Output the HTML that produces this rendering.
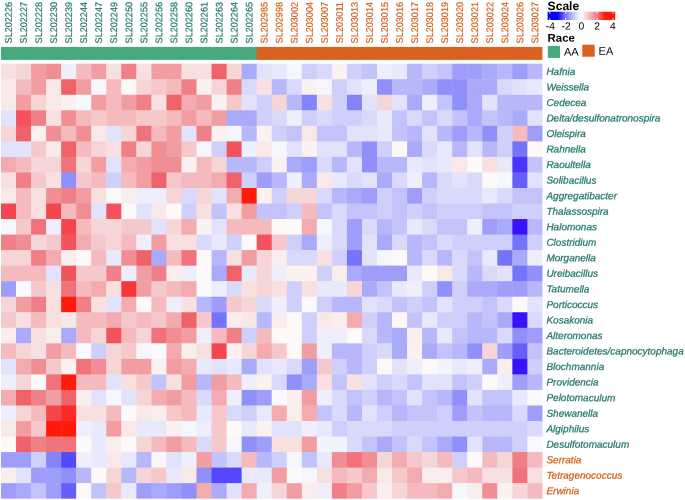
<!DOCTYPE html><html><head><meta charset="utf-8"><title>Heatmap</title><style>html,body{margin:0;padding:0;background:#fff}svg{display:block}text{font-family:"Liberation Sans",Arial,sans-serif}</style></head><body>
<svg width="685" height="500" viewBox="0 0 685 500">
<rect width="685" height="500" fill="#fff"/>
<g font-size="9.6" stroke-width="0.2">
<text transform="translate(11.82,43.40) rotate(-89.9)" textLength="41.4" lengthAdjust="spacingAndGlyphs" fill="#23776B" stroke="#23776B">SL202226</text>
<text transform="translate(26.86,43.40) rotate(-89.9)" textLength="41.4" lengthAdjust="spacingAndGlyphs" fill="#23776B" stroke="#23776B">SL202227</text>
<text transform="translate(41.90,43.40) rotate(-89.9)" textLength="41.4" lengthAdjust="spacingAndGlyphs" fill="#23776B" stroke="#23776B">SL202228</text>
<text transform="translate(56.94,43.40) rotate(-89.9)" textLength="41.4" lengthAdjust="spacingAndGlyphs" fill="#23776B" stroke="#23776B">SL202230</text>
<text transform="translate(71.98,43.40) rotate(-89.9)" textLength="41.4" lengthAdjust="spacingAndGlyphs" fill="#23776B" stroke="#23776B">SL202239</text>
<text transform="translate(87.02,43.40) rotate(-89.9)" textLength="41.4" lengthAdjust="spacingAndGlyphs" fill="#23776B" stroke="#23776B">SL202244</text>
<text transform="translate(102.06,43.40) rotate(-89.9)" textLength="41.4" lengthAdjust="spacingAndGlyphs" fill="#23776B" stroke="#23776B">SL202247</text>
<text transform="translate(117.10,43.40) rotate(-89.9)" textLength="41.4" lengthAdjust="spacingAndGlyphs" fill="#23776B" stroke="#23776B">SL202249</text>
<text transform="translate(132.14,43.40) rotate(-89.9)" textLength="41.4" lengthAdjust="spacingAndGlyphs" fill="#23776B" stroke="#23776B">SL202250</text>
<text transform="translate(147.18,43.40) rotate(-89.9)" textLength="41.4" lengthAdjust="spacingAndGlyphs" fill="#23776B" stroke="#23776B">SL202255</text>
<text transform="translate(162.22,43.40) rotate(-89.9)" textLength="41.4" lengthAdjust="spacingAndGlyphs" fill="#23776B" stroke="#23776B">SL202256</text>
<text transform="translate(177.26,43.40) rotate(-89.9)" textLength="41.4" lengthAdjust="spacingAndGlyphs" fill="#23776B" stroke="#23776B">SL202258</text>
<text transform="translate(192.30,43.40) rotate(-89.9)" textLength="41.4" lengthAdjust="spacingAndGlyphs" fill="#23776B" stroke="#23776B">SL202260</text>
<text transform="translate(207.34,43.40) rotate(-89.9)" textLength="41.4" lengthAdjust="spacingAndGlyphs" fill="#23776B" stroke="#23776B">SL202261</text>
<text transform="translate(222.38,43.40) rotate(-89.9)" textLength="41.4" lengthAdjust="spacingAndGlyphs" fill="#23776B" stroke="#23776B">SL202263</text>
<text transform="translate(237.42,43.40) rotate(-89.9)" textLength="41.4" lengthAdjust="spacingAndGlyphs" fill="#23776B" stroke="#23776B">SL202264</text>
<text transform="translate(252.46,43.40) rotate(-89.9)" textLength="41.4" lengthAdjust="spacingAndGlyphs" fill="#23776B" stroke="#23776B">SL202265</text>
<text transform="translate(267.50,43.40) rotate(-89.9)" textLength="41.4" lengthAdjust="spacingAndGlyphs" fill="#D2601E" stroke="#D2601E">SL202985</text>
<text transform="translate(282.54,43.40) rotate(-89.9)" textLength="41.4" lengthAdjust="spacingAndGlyphs" fill="#D2601E" stroke="#D2601E">SL202998</text>
<text transform="translate(297.58,43.40) rotate(-89.9)" textLength="41.4" lengthAdjust="spacingAndGlyphs" fill="#D2601E" stroke="#D2601E">SL203002</text>
<text transform="translate(312.62,43.40) rotate(-89.9)" textLength="41.4" lengthAdjust="spacingAndGlyphs" fill="#D2601E" stroke="#D2601E">SL203004</text>
<text transform="translate(327.66,43.40) rotate(-89.9)" textLength="41.4" lengthAdjust="spacingAndGlyphs" fill="#D2601E" stroke="#D2601E">SL203007</text>
<text transform="translate(342.70,43.40) rotate(-89.9)" textLength="41.4" lengthAdjust="spacingAndGlyphs" fill="#D2601E" stroke="#D2601E">SL203011</text>
<text transform="translate(357.74,43.40) rotate(-89.9)" textLength="41.4" lengthAdjust="spacingAndGlyphs" fill="#D2601E" stroke="#D2601E">SL203013</text>
<text transform="translate(372.78,43.40) rotate(-89.9)" textLength="41.4" lengthAdjust="spacingAndGlyphs" fill="#D2601E" stroke="#D2601E">SL203014</text>
<text transform="translate(387.82,43.40) rotate(-89.9)" textLength="41.4" lengthAdjust="spacingAndGlyphs" fill="#D2601E" stroke="#D2601E">SL203015</text>
<text transform="translate(402.86,43.40) rotate(-89.9)" textLength="41.4" lengthAdjust="spacingAndGlyphs" fill="#D2601E" stroke="#D2601E">SL203016</text>
<text transform="translate(417.90,43.40) rotate(-89.9)" textLength="41.4" lengthAdjust="spacingAndGlyphs" fill="#D2601E" stroke="#D2601E">SL203017</text>
<text transform="translate(432.94,43.40) rotate(-89.9)" textLength="41.4" lengthAdjust="spacingAndGlyphs" fill="#D2601E" stroke="#D2601E">SL203018</text>
<text transform="translate(447.98,43.40) rotate(-89.9)" textLength="41.4" lengthAdjust="spacingAndGlyphs" fill="#D2601E" stroke="#D2601E">SL203019</text>
<text transform="translate(463.02,43.40) rotate(-89.9)" textLength="41.4" lengthAdjust="spacingAndGlyphs" fill="#D2601E" stroke="#D2601E">SL203020</text>
<text transform="translate(478.06,43.40) rotate(-89.9)" textLength="41.4" lengthAdjust="spacingAndGlyphs" fill="#D2601E" stroke="#D2601E">SL203021</text>
<text transform="translate(493.10,43.40) rotate(-89.9)" textLength="41.4" lengthAdjust="spacingAndGlyphs" fill="#D2601E" stroke="#D2601E">SL203022</text>
<text transform="translate(508.14,43.40) rotate(-89.9)" textLength="41.4" lengthAdjust="spacingAndGlyphs" fill="#D2601E" stroke="#D2601E">SL203024</text>
<text transform="translate(523.18,43.40) rotate(-89.9)" textLength="41.4" lengthAdjust="spacingAndGlyphs" fill="#D2601E" stroke="#D2601E">SL203026</text>
<text transform="translate(538.22,43.40) rotate(-89.9)" textLength="41.4" lengthAdjust="spacingAndGlyphs" fill="#D2601E" stroke="#D2601E">SL203027</text>
</g>
<rect x="1.00" y="46.90" width="256.08" height="13.00" fill="#48A97C"/>
<rect x="256.68" y="46.90" width="285.76" height="13.00" fill="#D9621E"/>
<rect x="1.00" y="63.70" width="15.54" height="16.04" fill="#F8E0E0"/>
<rect x="16.04" y="63.70" width="15.54" height="16.04" fill="#F6D5D7"/>
<rect x="31.08" y="63.70" width="15.54" height="16.04" fill="#F29DA2"/>
<rect x="46.12" y="63.70" width="15.54" height="16.04" fill="#F18E94"/>
<rect x="61.16" y="63.70" width="15.54" height="16.04" fill="#EEEEFD"/>
<rect x="76.20" y="63.70" width="15.54" height="16.04" fill="#F4BABE"/>
<rect x="91.24" y="63.70" width="15.54" height="16.04" fill="#F29DA2"/>
<rect x="106.28" y="63.70" width="15.54" height="16.04" fill="#F8E0E0"/>
<rect x="121.32" y="63.70" width="15.54" height="16.04" fill="#F08087"/>
<rect x="136.36" y="63.70" width="15.54" height="16.04" fill="#F8E0E0"/>
<rect x="151.40" y="63.70" width="15.54" height="16.04" fill="#F29DA2"/>
<rect x="166.44" y="63.70" width="15.54" height="16.04" fill="#F29DA2"/>
<rect x="181.48" y="63.70" width="15.54" height="16.04" fill="#F8E0E0"/>
<rect x="196.52" y="63.70" width="15.54" height="16.04" fill="#F8E0E0"/>
<rect x="211.56" y="63.70" width="15.54" height="16.04" fill="#F0626A"/>
<rect x="226.60" y="63.70" width="15.54" height="16.04" fill="#F6D5D7"/>
<rect x="241.64" y="63.70" width="15.54" height="16.04" fill="#AAAAFB"/>
<rect x="256.68" y="63.70" width="15.54" height="16.04" fill="#E2E2FD"/>
<rect x="271.72" y="63.70" width="15.54" height="16.04" fill="#E9E9FD"/>
<rect x="286.76" y="63.70" width="15.54" height="16.04" fill="#F6F6FD"/>
<rect x="301.80" y="63.70" width="15.54" height="16.04" fill="#CFCFFC"/>
<rect x="316.84" y="63.70" width="15.54" height="16.04" fill="#D9D9FC"/>
<rect x="331.88" y="63.70" width="15.54" height="16.04" fill="#FBF1F1"/>
<rect x="346.92" y="63.70" width="15.54" height="16.04" fill="#CFCFFC"/>
<rect x="361.96" y="63.70" width="15.54" height="16.04" fill="#C3C3FB"/>
<rect x="377.00" y="63.70" width="15.54" height="16.04" fill="#EEEEFD"/>
<rect x="392.04" y="63.70" width="15.54" height="16.04" fill="#E9E9FD"/>
<rect x="407.08" y="63.70" width="15.54" height="16.04" fill="#B7B7FB"/>
<rect x="422.12" y="63.70" width="15.54" height="16.04" fill="#CFCFFC"/>
<rect x="437.16" y="63.70" width="15.54" height="16.04" fill="#C3C3FB"/>
<rect x="452.20" y="63.70" width="15.54" height="16.04" fill="#9E9EFA"/>
<rect x="467.24" y="63.70" width="15.54" height="16.04" fill="#9E9EFA"/>
<rect x="482.28" y="63.70" width="15.54" height="16.04" fill="#AAAAFB"/>
<rect x="497.32" y="63.70" width="15.54" height="16.04" fill="#B7B7FB"/>
<rect x="512.36" y="63.70" width="15.54" height="16.04" fill="#9E9EFA"/>
<rect x="527.40" y="63.70" width="15.04" height="16.04" fill="#B7B7FB"/>
<rect x="1.00" y="79.23" width="15.54" height="16.04" fill="#F9E8E8"/>
<rect x="16.04" y="79.23" width="15.54" height="16.04" fill="#F4BABE"/>
<rect x="31.08" y="79.23" width="15.54" height="16.04" fill="#F29DA2"/>
<rect x="46.12" y="79.23" width="15.54" height="16.04" fill="#F9E8E8"/>
<rect x="61.16" y="79.23" width="15.54" height="16.04" fill="#F0626A"/>
<rect x="76.20" y="79.23" width="15.54" height="16.04" fill="#F29DA2"/>
<rect x="91.24" y="79.23" width="15.54" height="16.04" fill="#F6F6FD"/>
<rect x="106.28" y="79.23" width="15.54" height="16.04" fill="#F4BABE"/>
<rect x="121.32" y="79.23" width="15.54" height="16.04" fill="#FDF9F9"/>
<rect x="136.36" y="79.23" width="15.54" height="16.04" fill="#F6D5D7"/>
<rect x="151.40" y="79.23" width="15.54" height="16.04" fill="#F5C8CC"/>
<rect x="166.44" y="79.23" width="15.54" height="16.04" fill="#F4BABE"/>
<rect x="181.48" y="79.23" width="15.54" height="16.04" fill="#F08087"/>
<rect x="196.52" y="79.23" width="15.54" height="16.04" fill="#FBF1F1"/>
<rect x="211.56" y="79.23" width="15.54" height="16.04" fill="#F6D5D7"/>
<rect x="226.60" y="79.23" width="15.54" height="16.04" fill="#F08087"/>
<rect x="241.64" y="79.23" width="15.54" height="16.04" fill="#D9D9FC"/>
<rect x="256.68" y="79.23" width="15.54" height="16.04" fill="#F8E0E0"/>
<rect x="271.72" y="79.23" width="15.54" height="16.04" fill="#B7B7FB"/>
<rect x="286.76" y="79.23" width="15.54" height="16.04" fill="#D9D9FC"/>
<rect x="301.80" y="79.23" width="15.54" height="16.04" fill="#FBF1F1"/>
<rect x="316.84" y="79.23" width="15.54" height="16.04" fill="#F6F6FD"/>
<rect x="331.88" y="79.23" width="15.54" height="16.04" fill="#CFCFFC"/>
<rect x="346.92" y="79.23" width="15.54" height="16.04" fill="#E2E2FD"/>
<rect x="361.96" y="79.23" width="15.54" height="16.04" fill="#EEEEFD"/>
<rect x="377.00" y="79.23" width="15.54" height="16.04" fill="#9090FA"/>
<rect x="392.04" y="79.23" width="15.54" height="16.04" fill="#B7B7FB"/>
<rect x="407.08" y="79.23" width="15.54" height="16.04" fill="#B7B7FB"/>
<rect x="422.12" y="79.23" width="15.54" height="16.04" fill="#AAAAFB"/>
<rect x="437.16" y="79.23" width="15.54" height="16.04" fill="#9090FA"/>
<rect x="452.20" y="79.23" width="15.54" height="16.04" fill="#9090FA"/>
<rect x="467.24" y="79.23" width="15.54" height="16.04" fill="#AAAAFB"/>
<rect x="482.28" y="79.23" width="15.54" height="16.04" fill="#AAAAFB"/>
<rect x="497.32" y="79.23" width="15.54" height="16.04" fill="#D9D9FC"/>
<rect x="512.36" y="79.23" width="15.54" height="16.04" fill="#E2E2FD"/>
<rect x="527.40" y="79.23" width="15.04" height="16.04" fill="#E9E9FD"/>
<rect x="1.00" y="94.77" width="15.54" height="16.04" fill="#F9E8E8"/>
<rect x="16.04" y="94.77" width="15.54" height="16.04" fill="#F29DA2"/>
<rect x="31.08" y="94.77" width="15.54" height="16.04" fill="#F6D5D7"/>
<rect x="46.12" y="94.77" width="15.54" height="16.04" fill="#F9E8E8"/>
<rect x="61.16" y="94.77" width="15.54" height="16.04" fill="#FBF1F1"/>
<rect x="76.20" y="94.77" width="15.54" height="16.04" fill="#F6F6FD"/>
<rect x="91.24" y="94.77" width="15.54" height="16.04" fill="#F29DA2"/>
<rect x="106.28" y="94.77" width="15.54" height="16.04" fill="#F4BABE"/>
<rect x="121.32" y="94.77" width="15.54" height="16.04" fill="#F29DA2"/>
<rect x="136.36" y="94.77" width="15.54" height="16.04" fill="#F08087"/>
<rect x="151.40" y="94.77" width="15.54" height="16.04" fill="#F8E0E0"/>
<rect x="166.44" y="94.77" width="15.54" height="16.04" fill="#F0626A"/>
<rect x="181.48" y="94.77" width="15.54" height="16.04" fill="#F3ABAF"/>
<rect x="196.52" y="94.77" width="15.54" height="16.04" fill="#F29DA2"/>
<rect x="211.56" y="94.77" width="15.54" height="16.04" fill="#FBF1F1"/>
<rect x="226.60" y="94.77" width="15.54" height="16.04" fill="#F5C8CC"/>
<rect x="241.64" y="94.77" width="15.54" height="16.04" fill="#E2E2FD"/>
<rect x="256.68" y="94.77" width="15.54" height="16.04" fill="#CFCFFC"/>
<rect x="271.72" y="94.77" width="15.54" height="16.04" fill="#F6D5D7"/>
<rect x="286.76" y="94.77" width="15.54" height="16.04" fill="#B7B7FB"/>
<rect x="301.80" y="94.77" width="15.54" height="16.04" fill="#8383FA"/>
<rect x="316.84" y="94.77" width="15.54" height="16.04" fill="#F8E0E0"/>
<rect x="331.88" y="94.77" width="15.54" height="16.04" fill="#CFCFFC"/>
<rect x="346.92" y="94.77" width="15.54" height="16.04" fill="#8383FA"/>
<rect x="361.96" y="94.77" width="15.54" height="16.04" fill="#E2E2FD"/>
<rect x="377.00" y="94.77" width="15.54" height="16.04" fill="#F6D5D7"/>
<rect x="392.04" y="94.77" width="15.54" height="16.04" fill="#E2E2FD"/>
<rect x="407.08" y="94.77" width="15.54" height="16.04" fill="#AAAAFB"/>
<rect x="422.12" y="94.77" width="15.54" height="16.04" fill="#EEEEFD"/>
<rect x="437.16" y="94.77" width="15.54" height="16.04" fill="#C3C3FB"/>
<rect x="452.20" y="94.77" width="15.54" height="16.04" fill="#9090FA"/>
<rect x="467.24" y="94.77" width="15.54" height="16.04" fill="#AAAAFB"/>
<rect x="482.28" y="94.77" width="15.54" height="16.04" fill="#E2E2FD"/>
<rect x="497.32" y="94.77" width="15.54" height="16.04" fill="#B7B7FB"/>
<rect x="512.36" y="94.77" width="15.54" height="16.04" fill="#B7B7FB"/>
<rect x="527.40" y="94.77" width="15.04" height="16.04" fill="#B7B7FB"/>
<rect x="1.00" y="110.31" width="15.54" height="16.04" fill="#E2E2FD"/>
<rect x="16.04" y="110.31" width="15.54" height="16.04" fill="#F2535C"/>
<rect x="31.08" y="110.31" width="15.54" height="16.04" fill="#F08087"/>
<rect x="46.12" y="110.31" width="15.54" height="16.04" fill="#F8E0E0"/>
<rect x="61.16" y="110.31" width="15.54" height="16.04" fill="#F18E94"/>
<rect x="76.20" y="110.31" width="15.54" height="16.04" fill="#F4BABE"/>
<rect x="91.24" y="110.31" width="15.54" height="16.04" fill="#F5C8CC"/>
<rect x="106.28" y="110.31" width="15.54" height="16.04" fill="#F4BABE"/>
<rect x="121.32" y="110.31" width="15.54" height="16.04" fill="#F4BABE"/>
<rect x="136.36" y="110.31" width="15.54" height="16.04" fill="#F5C8CC"/>
<rect x="151.40" y="110.31" width="15.54" height="16.04" fill="#F5C8CC"/>
<rect x="166.44" y="110.31" width="15.54" height="16.04" fill="#F4BABE"/>
<rect x="181.48" y="110.31" width="15.54" height="16.04" fill="#F29DA2"/>
<rect x="196.52" y="110.31" width="15.54" height="16.04" fill="#F4BABE"/>
<rect x="211.56" y="110.31" width="15.54" height="16.04" fill="#F29DA2"/>
<rect x="226.60" y="110.31" width="15.54" height="16.04" fill="#AAAAFB"/>
<rect x="241.64" y="110.31" width="15.54" height="16.04" fill="#AAAAFB"/>
<rect x="256.68" y="110.31" width="15.54" height="16.04" fill="#CFCFFC"/>
<rect x="271.72" y="110.31" width="15.54" height="16.04" fill="#D9D9FC"/>
<rect x="286.76" y="110.31" width="15.54" height="16.04" fill="#EEEEFD"/>
<rect x="301.80" y="110.31" width="15.54" height="16.04" fill="#CFCFFC"/>
<rect x="316.84" y="110.31" width="15.54" height="16.04" fill="#D9D9FC"/>
<rect x="331.88" y="110.31" width="15.54" height="16.04" fill="#CFCFFC"/>
<rect x="346.92" y="110.31" width="15.54" height="16.04" fill="#CFCFFC"/>
<rect x="361.96" y="110.31" width="15.54" height="16.04" fill="#D9D9FC"/>
<rect x="377.00" y="110.31" width="15.54" height="16.04" fill="#E9E9FD"/>
<rect x="392.04" y="110.31" width="15.54" height="16.04" fill="#C3C3FB"/>
<rect x="407.08" y="110.31" width="15.54" height="16.04" fill="#D9D9FC"/>
<rect x="422.12" y="110.31" width="15.54" height="16.04" fill="#C3C3FB"/>
<rect x="437.16" y="110.31" width="15.54" height="16.04" fill="#D9D9FC"/>
<rect x="452.20" y="110.31" width="15.54" height="16.04" fill="#C3C3FB"/>
<rect x="467.24" y="110.31" width="15.54" height="16.04" fill="#AAAAFB"/>
<rect x="482.28" y="110.31" width="15.54" height="16.04" fill="#C3C3FB"/>
<rect x="497.32" y="110.31" width="15.54" height="16.04" fill="#B7B7FB"/>
<rect x="512.36" y="110.31" width="15.54" height="16.04" fill="#AAAAFB"/>
<rect x="527.40" y="110.31" width="15.04" height="16.04" fill="#E2E2FD"/>
<rect x="1.00" y="125.84" width="15.54" height="16.04" fill="#F6D5D7"/>
<rect x="16.04" y="125.84" width="15.54" height="16.04" fill="#F0626A"/>
<rect x="31.08" y="125.84" width="15.54" height="16.04" fill="#FBF1F1"/>
<rect x="46.12" y="125.84" width="15.54" height="16.04" fill="#F18E94"/>
<rect x="61.16" y="125.84" width="15.54" height="16.04" fill="#F4BABE"/>
<rect x="76.20" y="125.84" width="15.54" height="16.04" fill="#F18E94"/>
<rect x="91.24" y="125.84" width="15.54" height="16.04" fill="#F9E8E8"/>
<rect x="106.28" y="125.84" width="15.54" height="16.04" fill="#E2E2FD"/>
<rect x="121.32" y="125.84" width="15.54" height="16.04" fill="#F6D5D7"/>
<rect x="136.36" y="125.84" width="15.54" height="16.04" fill="#F0737B"/>
<rect x="151.40" y="125.84" width="15.54" height="16.04" fill="#F4BABE"/>
<rect x="166.44" y="125.84" width="15.54" height="16.04" fill="#F29DA2"/>
<rect x="181.48" y="125.84" width="15.54" height="16.04" fill="#E2E2FD"/>
<rect x="196.52" y="125.84" width="15.54" height="16.04" fill="#F08087"/>
<rect x="211.56" y="125.84" width="15.54" height="16.04" fill="#FBF1F1"/>
<rect x="226.60" y="125.84" width="15.54" height="16.04" fill="#F6F6FD"/>
<rect x="241.64" y="125.84" width="15.54" height="16.04" fill="#B7B7FB"/>
<rect x="256.68" y="125.84" width="15.54" height="16.04" fill="#FBF1F1"/>
<rect x="271.72" y="125.84" width="15.54" height="16.04" fill="#CFCFFC"/>
<rect x="286.76" y="125.84" width="15.54" height="16.04" fill="#C3C3FB"/>
<rect x="301.80" y="125.84" width="15.54" height="16.04" fill="#F9E8E8"/>
<rect x="316.84" y="125.84" width="15.54" height="16.04" fill="#C3C3FB"/>
<rect x="331.88" y="125.84" width="15.54" height="16.04" fill="#C3C3FB"/>
<rect x="346.92" y="125.84" width="15.54" height="16.04" fill="#E2E2FD"/>
<rect x="361.96" y="125.84" width="15.54" height="16.04" fill="#E2E2FD"/>
<rect x="377.00" y="125.84" width="15.54" height="16.04" fill="#E9E9FD"/>
<rect x="392.04" y="125.84" width="15.54" height="16.04" fill="#C3C3FB"/>
<rect x="407.08" y="125.84" width="15.54" height="16.04" fill="#B7B7FB"/>
<rect x="422.12" y="125.84" width="15.54" height="16.04" fill="#E2E2FD"/>
<rect x="437.16" y="125.84" width="15.54" height="16.04" fill="#B7B7FB"/>
<rect x="452.20" y="125.84" width="15.54" height="16.04" fill="#9E9EFA"/>
<rect x="467.24" y="125.84" width="15.54" height="16.04" fill="#B7B7FB"/>
<rect x="482.28" y="125.84" width="15.54" height="16.04" fill="#9090FA"/>
<rect x="497.32" y="125.84" width="15.54" height="16.04" fill="#CFCFFC"/>
<rect x="512.36" y="125.84" width="15.54" height="16.04" fill="#F4BABE"/>
<rect x="527.40" y="125.84" width="15.04" height="16.04" fill="#9E9EFA"/>
<rect x="1.00" y="141.38" width="15.54" height="16.04" fill="#E2E2FD"/>
<rect x="16.04" y="141.38" width="15.54" height="16.04" fill="#E2E2FD"/>
<rect x="31.08" y="141.38" width="15.54" height="16.04" fill="#F5C8CC"/>
<rect x="46.12" y="141.38" width="15.54" height="16.04" fill="#F9E8E8"/>
<rect x="61.16" y="141.38" width="15.54" height="16.04" fill="#F0626A"/>
<rect x="76.20" y="141.38" width="15.54" height="16.04" fill="#F4BABE"/>
<rect x="91.24" y="141.38" width="15.54" height="16.04" fill="#F6D5D7"/>
<rect x="106.28" y="141.38" width="15.54" height="16.04" fill="#F8E0E0"/>
<rect x="121.32" y="141.38" width="15.54" height="16.04" fill="#F08087"/>
<rect x="136.36" y="141.38" width="15.54" height="16.04" fill="#F6D5D7"/>
<rect x="151.40" y="141.38" width="15.54" height="16.04" fill="#F18E94"/>
<rect x="166.44" y="141.38" width="15.54" height="16.04" fill="#F29DA2"/>
<rect x="181.48" y="141.38" width="15.54" height="16.04" fill="#F5C8CC"/>
<rect x="196.52" y="141.38" width="15.54" height="16.04" fill="#F6F6FD"/>
<rect x="211.56" y="141.38" width="15.54" height="16.04" fill="#CFCFFC"/>
<rect x="226.60" y="141.38" width="15.54" height="16.04" fill="#F2535C"/>
<rect x="241.64" y="141.38" width="15.54" height="16.04" fill="#EEEEFD"/>
<rect x="256.68" y="141.38" width="15.54" height="16.04" fill="#F9E8E8"/>
<rect x="271.72" y="141.38" width="15.54" height="16.04" fill="#F6F6FD"/>
<rect x="286.76" y="141.38" width="15.54" height="16.04" fill="#E2E2FD"/>
<rect x="301.80" y="141.38" width="15.54" height="16.04" fill="#FBF1F1"/>
<rect x="316.84" y="141.38" width="15.54" height="16.04" fill="#E2E2FD"/>
<rect x="331.88" y="141.38" width="15.54" height="16.04" fill="#E2E2FD"/>
<rect x="346.92" y="141.38" width="15.54" height="16.04" fill="#B7B7FB"/>
<rect x="361.96" y="141.38" width="15.54" height="16.04" fill="#9090FA"/>
<rect x="377.00" y="141.38" width="15.54" height="16.04" fill="#CFCFFC"/>
<rect x="392.04" y="141.38" width="15.54" height="16.04" fill="#FDF7F7"/>
<rect x="407.08" y="141.38" width="15.54" height="16.04" fill="#AAAAFB"/>
<rect x="422.12" y="141.38" width="15.54" height="16.04" fill="#D9D9FC"/>
<rect x="437.16" y="141.38" width="15.54" height="16.04" fill="#E9E9FD"/>
<rect x="452.20" y="141.38" width="15.54" height="16.04" fill="#B7B7FB"/>
<rect x="467.24" y="141.38" width="15.54" height="16.04" fill="#E2E2FD"/>
<rect x="482.28" y="141.38" width="15.54" height="16.04" fill="#B7B7FB"/>
<rect x="497.32" y="141.38" width="15.54" height="16.04" fill="#CFCFFC"/>
<rect x="512.36" y="141.38" width="15.54" height="16.04" fill="#7474FA"/>
<rect x="527.40" y="141.38" width="15.04" height="16.04" fill="#FDF7F7"/>
<rect x="1.00" y="156.91" width="15.54" height="16.04" fill="#F3ABAF"/>
<rect x="16.04" y="156.91" width="15.54" height="16.04" fill="#F4BABE"/>
<rect x="31.08" y="156.91" width="15.54" height="16.04" fill="#F6D5D7"/>
<rect x="46.12" y="156.91" width="15.54" height="16.04" fill="#F6D5D7"/>
<rect x="61.16" y="156.91" width="15.54" height="16.04" fill="#F0737B"/>
<rect x="76.20" y="156.91" width="15.54" height="16.04" fill="#F6D5D7"/>
<rect x="91.24" y="156.91" width="15.54" height="16.04" fill="#F29DA2"/>
<rect x="106.28" y="156.91" width="15.54" height="16.04" fill="#E2E2FD"/>
<rect x="121.32" y="156.91" width="15.54" height="16.04" fill="#F3ABAF"/>
<rect x="136.36" y="156.91" width="15.54" height="16.04" fill="#F29DA2"/>
<rect x="151.40" y="156.91" width="15.54" height="16.04" fill="#F18E94"/>
<rect x="166.44" y="156.91" width="15.54" height="16.04" fill="#F18E94"/>
<rect x="181.48" y="156.91" width="15.54" height="16.04" fill="#FBF1F1"/>
<rect x="196.52" y="156.91" width="15.54" height="16.04" fill="#F4BABE"/>
<rect x="211.56" y="156.91" width="15.54" height="16.04" fill="#F6D5D7"/>
<rect x="226.60" y="156.91" width="15.54" height="16.04" fill="#B7B7FB"/>
<rect x="241.64" y="156.91" width="15.54" height="16.04" fill="#B7B7FB"/>
<rect x="256.68" y="156.91" width="15.54" height="16.04" fill="#CFCFFC"/>
<rect x="271.72" y="156.91" width="15.54" height="16.04" fill="#FBF1F1"/>
<rect x="286.76" y="156.91" width="15.54" height="16.04" fill="#AAAAFB"/>
<rect x="301.80" y="156.91" width="15.54" height="16.04" fill="#9E9EFA"/>
<rect x="316.84" y="156.91" width="15.54" height="16.04" fill="#D9D9FC"/>
<rect x="331.88" y="156.91" width="15.54" height="16.04" fill="#B7B7FB"/>
<rect x="346.92" y="156.91" width="15.54" height="16.04" fill="#E2E2FD"/>
<rect x="361.96" y="156.91" width="15.54" height="16.04" fill="#9090FA"/>
<rect x="377.00" y="156.91" width="15.54" height="16.04" fill="#B7B7FB"/>
<rect x="392.04" y="156.91" width="15.54" height="16.04" fill="#B7B7FB"/>
<rect x="407.08" y="156.91" width="15.54" height="16.04" fill="#E9E9FD"/>
<rect x="422.12" y="156.91" width="15.54" height="16.04" fill="#E2E2FD"/>
<rect x="437.16" y="156.91" width="15.54" height="16.04" fill="#E9E9FD"/>
<rect x="452.20" y="156.91" width="15.54" height="16.04" fill="#F9E8E8"/>
<rect x="467.24" y="156.91" width="15.54" height="16.04" fill="#FDF9F9"/>
<rect x="482.28" y="156.91" width="15.54" height="16.04" fill="#F8E0E0"/>
<rect x="497.32" y="156.91" width="15.54" height="16.04" fill="#E9E9FD"/>
<rect x="512.36" y="156.91" width="15.54" height="16.04" fill="#4A35FC"/>
<rect x="527.40" y="156.91" width="15.04" height="16.04" fill="#C3C3FB"/>
<rect x="1.00" y="172.44" width="15.54" height="16.04" fill="#F8E0E0"/>
<rect x="16.04" y="172.44" width="15.54" height="16.04" fill="#F08087"/>
<rect x="31.08" y="172.44" width="15.54" height="16.04" fill="#F5C8CC"/>
<rect x="46.12" y="172.44" width="15.54" height="16.04" fill="#F8E0E0"/>
<rect x="61.16" y="172.44" width="15.54" height="16.04" fill="#9090FA"/>
<rect x="76.20" y="172.44" width="15.54" height="16.04" fill="#F5C8CC"/>
<rect x="91.24" y="172.44" width="15.54" height="16.04" fill="#F4BABE"/>
<rect x="106.28" y="172.44" width="15.54" height="16.04" fill="#CFCFFC"/>
<rect x="121.32" y="172.44" width="15.54" height="16.04" fill="#F4BABE"/>
<rect x="136.36" y="172.44" width="15.54" height="16.04" fill="#F29DA2"/>
<rect x="151.40" y="172.44" width="15.54" height="16.04" fill="#F0626A"/>
<rect x="166.44" y="172.44" width="15.54" height="16.04" fill="#F5C8CC"/>
<rect x="181.48" y="172.44" width="15.54" height="16.04" fill="#F4BABE"/>
<rect x="196.52" y="172.44" width="15.54" height="16.04" fill="#F4BABE"/>
<rect x="211.56" y="172.44" width="15.54" height="16.04" fill="#F3ABAF"/>
<rect x="226.60" y="172.44" width="15.54" height="16.04" fill="#F0626A"/>
<rect x="241.64" y="172.44" width="15.54" height="16.04" fill="#CFCFFC"/>
<rect x="256.68" y="172.44" width="15.54" height="16.04" fill="#9E9EFA"/>
<rect x="271.72" y="172.44" width="15.54" height="16.04" fill="#B7B7FB"/>
<rect x="286.76" y="172.44" width="15.54" height="16.04" fill="#EEEEFD"/>
<rect x="301.80" y="172.44" width="15.54" height="16.04" fill="#AAAAFB"/>
<rect x="316.84" y="172.44" width="15.54" height="16.04" fill="#F9E8E8"/>
<rect x="331.88" y="172.44" width="15.54" height="16.04" fill="#E9E9FD"/>
<rect x="346.92" y="172.44" width="15.54" height="16.04" fill="#D9D9FC"/>
<rect x="361.96" y="172.44" width="15.54" height="16.04" fill="#E2E2FD"/>
<rect x="377.00" y="172.44" width="15.54" height="16.04" fill="#AAAAFB"/>
<rect x="392.04" y="172.44" width="15.54" height="16.04" fill="#D9D9FC"/>
<rect x="407.08" y="172.44" width="15.54" height="16.04" fill="#EEEEFD"/>
<rect x="422.12" y="172.44" width="15.54" height="16.04" fill="#B7B7FB"/>
<rect x="437.16" y="172.44" width="15.54" height="16.04" fill="#D9D9FC"/>
<rect x="452.20" y="172.44" width="15.54" height="16.04" fill="#E2E2FD"/>
<rect x="467.24" y="172.44" width="15.54" height="16.04" fill="#D9D9FC"/>
<rect x="482.28" y="172.44" width="15.54" height="16.04" fill="#FDF9F9"/>
<rect x="497.32" y="172.44" width="15.54" height="16.04" fill="#F6F6FD"/>
<rect x="512.36" y="172.44" width="15.54" height="16.04" fill="#6560FA"/>
<rect x="527.40" y="172.44" width="15.04" height="16.04" fill="#E2E2FD"/>
<rect x="1.00" y="187.98" width="15.54" height="16.04" fill="#F9E8E8"/>
<rect x="16.04" y="187.98" width="15.54" height="16.04" fill="#F4BABE"/>
<rect x="31.08" y="187.98" width="15.54" height="16.04" fill="#F8E0E0"/>
<rect x="46.12" y="187.98" width="15.54" height="16.04" fill="#F18E94"/>
<rect x="61.16" y="187.98" width="15.54" height="16.04" fill="#F08087"/>
<rect x="76.20" y="187.98" width="15.54" height="16.04" fill="#F29DA2"/>
<rect x="91.24" y="187.98" width="15.54" height="16.04" fill="#F8E0E0"/>
<rect x="106.28" y="187.98" width="15.54" height="16.04" fill="#FDF9F9"/>
<rect x="121.32" y="187.98" width="15.54" height="16.04" fill="#FAEDED"/>
<rect x="136.36" y="187.98" width="15.54" height="16.04" fill="#EEEEFD"/>
<rect x="151.40" y="187.98" width="15.54" height="16.04" fill="#EEEEFD"/>
<rect x="166.44" y="187.98" width="15.54" height="16.04" fill="#F6D5D7"/>
<rect x="181.48" y="187.98" width="15.54" height="16.04" fill="#D9D9FC"/>
<rect x="196.52" y="187.98" width="15.54" height="16.04" fill="#F6D5D7"/>
<rect x="211.56" y="187.98" width="15.54" height="16.04" fill="#E2E2FD"/>
<rect x="226.60" y="187.98" width="15.54" height="16.04" fill="#F3ABAF"/>
<rect x="241.64" y="187.98" width="15.54" height="16.04" fill="#FF1A0A"/>
<rect x="256.68" y="187.98" width="15.54" height="16.04" fill="#FBF1F1"/>
<rect x="271.72" y="187.98" width="15.54" height="16.04" fill="#CFCFFC"/>
<rect x="286.76" y="187.98" width="15.54" height="16.04" fill="#F6D5D7"/>
<rect x="301.80" y="187.98" width="15.54" height="16.04" fill="#F6D5D7"/>
<rect x="316.84" y="187.98" width="15.54" height="16.04" fill="#D9D9FC"/>
<rect x="331.88" y="187.98" width="15.54" height="16.04" fill="#B7B7FB"/>
<rect x="346.92" y="187.98" width="15.54" height="16.04" fill="#AAAAFB"/>
<rect x="361.96" y="187.98" width="15.54" height="16.04" fill="#9E9EFA"/>
<rect x="377.00" y="187.98" width="15.54" height="16.04" fill="#CFCFFC"/>
<rect x="392.04" y="187.98" width="15.54" height="16.04" fill="#C3C3FB"/>
<rect x="407.08" y="187.98" width="15.54" height="16.04" fill="#9E9EFA"/>
<rect x="422.12" y="187.98" width="15.54" height="16.04" fill="#CFCFFC"/>
<rect x="437.16" y="187.98" width="15.54" height="16.04" fill="#D9D9FC"/>
<rect x="452.20" y="187.98" width="15.54" height="16.04" fill="#D9D9FC"/>
<rect x="467.24" y="187.98" width="15.54" height="16.04" fill="#D9D9FC"/>
<rect x="482.28" y="187.98" width="15.54" height="16.04" fill="#E9E9FD"/>
<rect x="497.32" y="187.98" width="15.54" height="16.04" fill="#D9D9FC"/>
<rect x="512.36" y="187.98" width="15.54" height="16.04" fill="#C3C3FB"/>
<rect x="527.40" y="187.98" width="15.04" height="16.04" fill="#C3C3FB"/>
<rect x="1.00" y="203.51" width="15.54" height="16.04" fill="#F5454D"/>
<rect x="16.04" y="203.51" width="15.54" height="16.04" fill="#F4BABE"/>
<rect x="31.08" y="203.51" width="15.54" height="16.04" fill="#F8E0E0"/>
<rect x="46.12" y="203.51" width="15.54" height="16.04" fill="#F5454D"/>
<rect x="61.16" y="203.51" width="15.54" height="16.04" fill="#F4BABE"/>
<rect x="76.20" y="203.51" width="15.54" height="16.04" fill="#F18E94"/>
<rect x="91.24" y="203.51" width="15.54" height="16.04" fill="#E2E2FD"/>
<rect x="106.28" y="203.51" width="15.54" height="16.04" fill="#F2535C"/>
<rect x="121.32" y="203.51" width="15.54" height="16.04" fill="#FDF9F9"/>
<rect x="136.36" y="203.51" width="15.54" height="16.04" fill="#E2E2FD"/>
<rect x="151.40" y="203.51" width="15.54" height="16.04" fill="#F9E8E8"/>
<rect x="166.44" y="203.51" width="15.54" height="16.04" fill="#FDF9F9"/>
<rect x="181.48" y="203.51" width="15.54" height="16.04" fill="#CFCFFC"/>
<rect x="196.52" y="203.51" width="15.54" height="16.04" fill="#F8E0E0"/>
<rect x="211.56" y="203.51" width="15.54" height="16.04" fill="#C3C3FB"/>
<rect x="226.60" y="203.51" width="15.54" height="16.04" fill="#F8E0E0"/>
<rect x="241.64" y="203.51" width="15.54" height="16.04" fill="#F29DA2"/>
<rect x="256.68" y="203.51" width="15.54" height="16.04" fill="#C3C3FB"/>
<rect x="271.72" y="203.51" width="15.54" height="16.04" fill="#C3C3FB"/>
<rect x="286.76" y="203.51" width="15.54" height="16.04" fill="#CFCFFC"/>
<rect x="301.80" y="203.51" width="15.54" height="16.04" fill="#F4BABE"/>
<rect x="316.84" y="203.51" width="15.54" height="16.04" fill="#C3C3FB"/>
<rect x="331.88" y="203.51" width="15.54" height="16.04" fill="#D9D9FC"/>
<rect x="346.92" y="203.51" width="15.54" height="16.04" fill="#C3C3FB"/>
<rect x="361.96" y="203.51" width="15.54" height="16.04" fill="#C3C3FB"/>
<rect x="377.00" y="203.51" width="15.54" height="16.04" fill="#CFCFFC"/>
<rect x="392.04" y="203.51" width="15.54" height="16.04" fill="#C3C3FB"/>
<rect x="407.08" y="203.51" width="15.54" height="16.04" fill="#CFCFFC"/>
<rect x="422.12" y="203.51" width="15.54" height="16.04" fill="#C3C3FB"/>
<rect x="437.16" y="203.51" width="15.54" height="16.04" fill="#CFCFFC"/>
<rect x="452.20" y="203.51" width="15.54" height="16.04" fill="#CFCFFC"/>
<rect x="467.24" y="203.51" width="15.54" height="16.04" fill="#CFCFFC"/>
<rect x="482.28" y="203.51" width="15.54" height="16.04" fill="#C3C3FB"/>
<rect x="497.32" y="203.51" width="15.54" height="16.04" fill="#C3C3FB"/>
<rect x="512.36" y="203.51" width="15.54" height="16.04" fill="#CFCFFC"/>
<rect x="527.40" y="203.51" width="15.04" height="16.04" fill="#CFCFFC"/>
<rect x="1.00" y="219.05" width="15.54" height="16.04" fill="#F6F6FD"/>
<rect x="16.04" y="219.05" width="15.54" height="16.04" fill="#F5C8CC"/>
<rect x="31.08" y="219.05" width="15.54" height="16.04" fill="#F0737B"/>
<rect x="46.12" y="219.05" width="15.54" height="16.04" fill="#EEEEFD"/>
<rect x="61.16" y="219.05" width="15.54" height="16.04" fill="#F5454D"/>
<rect x="76.20" y="219.05" width="15.54" height="16.04" fill="#F4BABE"/>
<rect x="91.24" y="219.05" width="15.54" height="16.04" fill="#F6D5D7"/>
<rect x="106.28" y="219.05" width="15.54" height="16.04" fill="#F6D5D7"/>
<rect x="121.32" y="219.05" width="15.54" height="16.04" fill="#F5C8CC"/>
<rect x="136.36" y="219.05" width="15.54" height="16.04" fill="#F5C8CC"/>
<rect x="151.40" y="219.05" width="15.54" height="16.04" fill="#E2E2FD"/>
<rect x="166.44" y="219.05" width="15.54" height="16.04" fill="#F6D5D7"/>
<rect x="181.48" y="219.05" width="15.54" height="16.04" fill="#F3ABAF"/>
<rect x="196.52" y="219.05" width="15.54" height="16.04" fill="#FBF1F1"/>
<rect x="211.56" y="219.05" width="15.54" height="16.04" fill="#E2E2FD"/>
<rect x="226.60" y="219.05" width="15.54" height="16.04" fill="#F4BABE"/>
<rect x="241.64" y="219.05" width="15.54" height="16.04" fill="#F4BABE"/>
<rect x="256.68" y="219.05" width="15.54" height="16.04" fill="#F4BABE"/>
<rect x="271.72" y="219.05" width="15.54" height="16.04" fill="#FDF9F9"/>
<rect x="286.76" y="219.05" width="15.54" height="16.04" fill="#FDF9F9"/>
<rect x="301.80" y="219.05" width="15.54" height="16.04" fill="#F3ABAF"/>
<rect x="316.84" y="219.05" width="15.54" height="16.04" fill="#F6F6FD"/>
<rect x="331.88" y="219.05" width="15.54" height="16.04" fill="#D9D9FC"/>
<rect x="346.92" y="219.05" width="15.54" height="16.04" fill="#9E9EFA"/>
<rect x="361.96" y="219.05" width="15.54" height="16.04" fill="#D9D9FC"/>
<rect x="377.00" y="219.05" width="15.54" height="16.04" fill="#B7B7FB"/>
<rect x="392.04" y="219.05" width="15.54" height="16.04" fill="#C3C3FB"/>
<rect x="407.08" y="219.05" width="15.54" height="16.04" fill="#E9E9FD"/>
<rect x="422.12" y="219.05" width="15.54" height="16.04" fill="#D9D9FC"/>
<rect x="437.16" y="219.05" width="15.54" height="16.04" fill="#C3C3FB"/>
<rect x="452.20" y="219.05" width="15.54" height="16.04" fill="#C3C3FB"/>
<rect x="467.24" y="219.05" width="15.54" height="16.04" fill="#EEEEFD"/>
<rect x="482.28" y="219.05" width="15.54" height="16.04" fill="#9E9EFA"/>
<rect x="497.32" y="219.05" width="15.54" height="16.04" fill="#AAAAFB"/>
<rect x="512.36" y="219.05" width="15.54" height="16.04" fill="#3812F8"/>
<rect x="527.40" y="219.05" width="15.04" height="16.04" fill="#B7B7FB"/>
<rect x="1.00" y="234.58" width="15.54" height="16.04" fill="#F08087"/>
<rect x="16.04" y="234.58" width="15.54" height="16.04" fill="#F18E94"/>
<rect x="31.08" y="234.58" width="15.54" height="16.04" fill="#F6D5D7"/>
<rect x="46.12" y="234.58" width="15.54" height="16.04" fill="#F5C8CC"/>
<rect x="61.16" y="234.58" width="15.54" height="16.04" fill="#F2535C"/>
<rect x="76.20" y="234.58" width="15.54" height="16.04" fill="#F3ABAF"/>
<rect x="91.24" y="234.58" width="15.54" height="16.04" fill="#F5C8CC"/>
<rect x="106.28" y="234.58" width="15.54" height="16.04" fill="#F6D5D7"/>
<rect x="121.32" y="234.58" width="15.54" height="16.04" fill="#F4BABE"/>
<rect x="136.36" y="234.58" width="15.54" height="16.04" fill="#EEEEFD"/>
<rect x="151.40" y="234.58" width="15.54" height="16.04" fill="#F29DA2"/>
<rect x="166.44" y="234.58" width="15.54" height="16.04" fill="#F8E0E0"/>
<rect x="181.48" y="234.58" width="15.54" height="16.04" fill="#F8E0E0"/>
<rect x="196.52" y="234.58" width="15.54" height="16.04" fill="#D9D9FC"/>
<rect x="211.56" y="234.58" width="15.54" height="16.04" fill="#E9E9FD"/>
<rect x="226.60" y="234.58" width="15.54" height="16.04" fill="#CFCFFC"/>
<rect x="241.64" y="234.58" width="15.54" height="16.04" fill="#FDF9F9"/>
<rect x="256.68" y="234.58" width="15.54" height="16.04" fill="#F2535C"/>
<rect x="271.72" y="234.58" width="15.54" height="16.04" fill="#F5C8CC"/>
<rect x="286.76" y="234.58" width="15.54" height="16.04" fill="#CFCFFC"/>
<rect x="301.80" y="234.58" width="15.54" height="16.04" fill="#AAAAFB"/>
<rect x="316.84" y="234.58" width="15.54" height="16.04" fill="#EEEEFD"/>
<rect x="331.88" y="234.58" width="15.54" height="16.04" fill="#D9D9FC"/>
<rect x="346.92" y="234.58" width="15.54" height="16.04" fill="#9E9EFA"/>
<rect x="361.96" y="234.58" width="15.54" height="16.04" fill="#E2E2FD"/>
<rect x="377.00" y="234.58" width="15.54" height="16.04" fill="#AAAAFB"/>
<rect x="392.04" y="234.58" width="15.54" height="16.04" fill="#D9D9FC"/>
<rect x="407.08" y="234.58" width="15.54" height="16.04" fill="#B7B7FB"/>
<rect x="422.12" y="234.58" width="15.54" height="16.04" fill="#C3C3FB"/>
<rect x="437.16" y="234.58" width="15.54" height="16.04" fill="#D9D9FC"/>
<rect x="452.20" y="234.58" width="15.54" height="16.04" fill="#CFCFFC"/>
<rect x="467.24" y="234.58" width="15.54" height="16.04" fill="#CFCFFC"/>
<rect x="482.28" y="234.58" width="15.54" height="16.04" fill="#CFCFFC"/>
<rect x="497.32" y="234.58" width="15.54" height="16.04" fill="#CFCFFC"/>
<rect x="512.36" y="234.58" width="15.54" height="16.04" fill="#7474FA"/>
<rect x="527.40" y="234.58" width="15.04" height="16.04" fill="#CFCFFC"/>
<rect x="1.00" y="250.12" width="15.54" height="16.04" fill="#F6D5D7"/>
<rect x="16.04" y="250.12" width="15.54" height="16.04" fill="#F6D5D7"/>
<rect x="31.08" y="250.12" width="15.54" height="16.04" fill="#F08087"/>
<rect x="46.12" y="250.12" width="15.54" height="16.04" fill="#F3ABAF"/>
<rect x="61.16" y="250.12" width="15.54" height="16.04" fill="#FAEDED"/>
<rect x="76.20" y="250.12" width="15.54" height="16.04" fill="#FDF9F9"/>
<rect x="91.24" y="250.12" width="15.54" height="16.04" fill="#F4BABE"/>
<rect x="106.28" y="250.12" width="15.54" height="16.04" fill="#E9E9FD"/>
<rect x="121.32" y="250.12" width="15.54" height="16.04" fill="#F18E94"/>
<rect x="136.36" y="250.12" width="15.54" height="16.04" fill="#F0626A"/>
<rect x="151.40" y="250.12" width="15.54" height="16.04" fill="#AAAAFB"/>
<rect x="166.44" y="250.12" width="15.54" height="16.04" fill="#F4BABE"/>
<rect x="181.48" y="250.12" width="15.54" height="16.04" fill="#F0737B"/>
<rect x="196.52" y="250.12" width="15.54" height="16.04" fill="#FDF9F9"/>
<rect x="211.56" y="250.12" width="15.54" height="16.04" fill="#B7B7FB"/>
<rect x="226.60" y="250.12" width="15.54" height="16.04" fill="#F8E0E0"/>
<rect x="241.64" y="250.12" width="15.54" height="16.04" fill="#F29DA2"/>
<rect x="256.68" y="250.12" width="15.54" height="16.04" fill="#F6D5D7"/>
<rect x="271.72" y="250.12" width="15.54" height="16.04" fill="#FAEDED"/>
<rect x="286.76" y="250.12" width="15.54" height="16.04" fill="#D9D9FC"/>
<rect x="301.80" y="250.12" width="15.54" height="16.04" fill="#D9D9FC"/>
<rect x="316.84" y="250.12" width="15.54" height="16.04" fill="#F8E0E0"/>
<rect x="331.88" y="250.12" width="15.54" height="16.04" fill="#CFCFFC"/>
<rect x="346.92" y="250.12" width="15.54" height="16.04" fill="#7474FA"/>
<rect x="361.96" y="250.12" width="15.54" height="16.04" fill="#E2E2FD"/>
<rect x="377.00" y="250.12" width="15.54" height="16.04" fill="#F6F6FD"/>
<rect x="392.04" y="250.12" width="15.54" height="16.04" fill="#FDF9F9"/>
<rect x="407.08" y="250.12" width="15.54" height="16.04" fill="#B7B7FB"/>
<rect x="422.12" y="250.12" width="15.54" height="16.04" fill="#D9D9FC"/>
<rect x="437.16" y="250.12" width="15.54" height="16.04" fill="#B7B7FB"/>
<rect x="452.20" y="250.12" width="15.54" height="16.04" fill="#D9D9FC"/>
<rect x="467.24" y="250.12" width="15.54" height="16.04" fill="#C3C3FB"/>
<rect x="482.28" y="250.12" width="15.54" height="16.04" fill="#E9E9FD"/>
<rect x="497.32" y="250.12" width="15.54" height="16.04" fill="#7474FA"/>
<rect x="512.36" y="250.12" width="15.54" height="16.04" fill="#AAAAFB"/>
<rect x="527.40" y="250.12" width="15.04" height="16.04" fill="#EEEEFD"/>
<rect x="1.00" y="265.66" width="15.54" height="16.04" fill="#F4BABE"/>
<rect x="16.04" y="265.66" width="15.54" height="16.04" fill="#F4BABE"/>
<rect x="31.08" y="265.66" width="15.54" height="16.04" fill="#F4BABE"/>
<rect x="46.12" y="265.66" width="15.54" height="16.04" fill="#E2E2FD"/>
<rect x="61.16" y="265.66" width="15.54" height="16.04" fill="#F2535C"/>
<rect x="76.20" y="265.66" width="15.54" height="16.04" fill="#F5C8CC"/>
<rect x="91.24" y="265.66" width="15.54" height="16.04" fill="#F5C8CC"/>
<rect x="106.28" y="265.66" width="15.54" height="16.04" fill="#F08087"/>
<rect x="121.32" y="265.66" width="15.54" height="16.04" fill="#EEEEFD"/>
<rect x="136.36" y="265.66" width="15.54" height="16.04" fill="#F29DA2"/>
<rect x="151.40" y="265.66" width="15.54" height="16.04" fill="#F08087"/>
<rect x="166.44" y="265.66" width="15.54" height="16.04" fill="#FAEDED"/>
<rect x="181.48" y="265.66" width="15.54" height="16.04" fill="#EEEEFD"/>
<rect x="196.52" y="265.66" width="15.54" height="16.04" fill="#FDF9F9"/>
<rect x="211.56" y="265.66" width="15.54" height="16.04" fill="#AAAAFB"/>
<rect x="226.60" y="265.66" width="15.54" height="16.04" fill="#F0626A"/>
<rect x="241.64" y="265.66" width="15.54" height="16.04" fill="#E9E9FD"/>
<rect x="256.68" y="265.66" width="15.54" height="16.04" fill="#F6D5D7"/>
<rect x="271.72" y="265.66" width="15.54" height="16.04" fill="#EEEEFD"/>
<rect x="286.76" y="265.66" width="15.54" height="16.04" fill="#FBF1F1"/>
<rect x="301.80" y="265.66" width="15.54" height="16.04" fill="#FBF1F1"/>
<rect x="316.84" y="265.66" width="15.54" height="16.04" fill="#CFCFFC"/>
<rect x="331.88" y="265.66" width="15.54" height="16.04" fill="#FAEDED"/>
<rect x="346.92" y="265.66" width="15.54" height="16.04" fill="#AAAAFB"/>
<rect x="361.96" y="265.66" width="15.54" height="16.04" fill="#9E9EFA"/>
<rect x="377.00" y="265.66" width="15.54" height="16.04" fill="#9E9EFA"/>
<rect x="392.04" y="265.66" width="15.54" height="16.04" fill="#9E9EFA"/>
<rect x="407.08" y="265.66" width="15.54" height="16.04" fill="#E9E9FD"/>
<rect x="422.12" y="265.66" width="15.54" height="16.04" fill="#FDF9F9"/>
<rect x="437.16" y="265.66" width="15.54" height="16.04" fill="#F9E8E8"/>
<rect x="452.20" y="265.66" width="15.54" height="16.04" fill="#D9D9FC"/>
<rect x="467.24" y="265.66" width="15.54" height="16.04" fill="#B7B7FB"/>
<rect x="482.28" y="265.66" width="15.54" height="16.04" fill="#D9D9FC"/>
<rect x="497.32" y="265.66" width="15.54" height="16.04" fill="#E2E2FD"/>
<rect x="512.36" y="265.66" width="15.54" height="16.04" fill="#7474FA"/>
<rect x="527.40" y="265.66" width="15.04" height="16.04" fill="#9090FA"/>
<rect x="1.00" y="281.19" width="15.54" height="16.04" fill="#9E9EFA"/>
<rect x="16.04" y="281.19" width="15.54" height="16.04" fill="#FAFAFE"/>
<rect x="31.08" y="281.19" width="15.54" height="16.04" fill="#F5C8CC"/>
<rect x="46.12" y="281.19" width="15.54" height="16.04" fill="#F8E0E0"/>
<rect x="61.16" y="281.19" width="15.54" height="16.04" fill="#F0737B"/>
<rect x="76.20" y="281.19" width="15.54" height="16.04" fill="#F4BABE"/>
<rect x="91.24" y="281.19" width="15.54" height="16.04" fill="#F3ABAF"/>
<rect x="106.28" y="281.19" width="15.54" height="16.04" fill="#F8E0E0"/>
<rect x="121.32" y="281.19" width="15.54" height="16.04" fill="#F8353A"/>
<rect x="136.36" y="281.19" width="15.54" height="16.04" fill="#F29DA2"/>
<rect x="151.40" y="281.19" width="15.54" height="16.04" fill="#F5C8CC"/>
<rect x="166.44" y="281.19" width="15.54" height="16.04" fill="#F4BABE"/>
<rect x="181.48" y="281.19" width="15.54" height="16.04" fill="#F3ABAF"/>
<rect x="196.52" y="281.19" width="15.54" height="16.04" fill="#FAFAFE"/>
<rect x="211.56" y="281.19" width="15.54" height="16.04" fill="#EEEEFD"/>
<rect x="226.60" y="281.19" width="15.54" height="16.04" fill="#D9D9FC"/>
<rect x="241.64" y="281.19" width="15.54" height="16.04" fill="#F8E0E0"/>
<rect x="256.68" y="281.19" width="15.54" height="16.04" fill="#F6D5D7"/>
<rect x="271.72" y="281.19" width="15.54" height="16.04" fill="#F8E0E0"/>
<rect x="286.76" y="281.19" width="15.54" height="16.04" fill="#CFCFFC"/>
<rect x="301.80" y="281.19" width="15.54" height="16.04" fill="#F8E0E0"/>
<rect x="316.84" y="281.19" width="15.54" height="16.04" fill="#E9E9FD"/>
<rect x="331.88" y="281.19" width="15.54" height="16.04" fill="#E9E9FD"/>
<rect x="346.92" y="281.19" width="15.54" height="16.04" fill="#F6D5D7"/>
<rect x="361.96" y="281.19" width="15.54" height="16.04" fill="#AAAAFB"/>
<rect x="377.00" y="281.19" width="15.54" height="16.04" fill="#C3C3FB"/>
<rect x="392.04" y="281.19" width="15.54" height="16.04" fill="#E9E9FD"/>
<rect x="407.08" y="281.19" width="15.54" height="16.04" fill="#EEEEFD"/>
<rect x="422.12" y="281.19" width="15.54" height="16.04" fill="#CFCFFC"/>
<rect x="437.16" y="281.19" width="15.54" height="16.04" fill="#9090FA"/>
<rect x="452.20" y="281.19" width="15.54" height="16.04" fill="#CFCFFC"/>
<rect x="467.24" y="281.19" width="15.54" height="16.04" fill="#AAAAFB"/>
<rect x="482.28" y="281.19" width="15.54" height="16.04" fill="#AAAAFB"/>
<rect x="497.32" y="281.19" width="15.54" height="16.04" fill="#9E9EFA"/>
<rect x="512.36" y="281.19" width="15.54" height="16.04" fill="#9E9EFA"/>
<rect x="527.40" y="281.19" width="15.04" height="16.04" fill="#B7B7FB"/>
<rect x="1.00" y="296.73" width="15.54" height="16.04" fill="#F6D5D7"/>
<rect x="16.04" y="296.73" width="15.54" height="16.04" fill="#F29DA2"/>
<rect x="31.08" y="296.73" width="15.54" height="16.04" fill="#F08087"/>
<rect x="46.12" y="296.73" width="15.54" height="16.04" fill="#F8E0E0"/>
<rect x="61.16" y="296.73" width="15.54" height="16.04" fill="#FF1A0A"/>
<rect x="76.20" y="296.73" width="15.54" height="16.04" fill="#F08087"/>
<rect x="91.24" y="296.73" width="15.54" height="16.04" fill="#F8E0E0"/>
<rect x="106.28" y="296.73" width="15.54" height="16.04" fill="#E2E2FD"/>
<rect x="121.32" y="296.73" width="15.54" height="16.04" fill="#F3ABAF"/>
<rect x="136.36" y="296.73" width="15.54" height="16.04" fill="#FDF9F9"/>
<rect x="151.40" y="296.73" width="15.54" height="16.04" fill="#F4BABE"/>
<rect x="166.44" y="296.73" width="15.54" height="16.04" fill="#EEEEFD"/>
<rect x="181.48" y="296.73" width="15.54" height="16.04" fill="#F8E0E0"/>
<rect x="196.52" y="296.73" width="15.54" height="16.04" fill="#B7B7FB"/>
<rect x="211.56" y="296.73" width="15.54" height="16.04" fill="#9E9EFA"/>
<rect x="226.60" y="296.73" width="15.54" height="16.04" fill="#F5C8CC"/>
<rect x="241.64" y="296.73" width="15.54" height="16.04" fill="#F6D5D7"/>
<rect x="256.68" y="296.73" width="15.54" height="16.04" fill="#D9D9FC"/>
<rect x="271.72" y="296.73" width="15.54" height="16.04" fill="#EEEEFD"/>
<rect x="286.76" y="296.73" width="15.54" height="16.04" fill="#CFCFFC"/>
<rect x="301.80" y="296.73" width="15.54" height="16.04" fill="#FAFAFE"/>
<rect x="316.84" y="296.73" width="15.54" height="16.04" fill="#CFCFFC"/>
<rect x="331.88" y="296.73" width="15.54" height="16.04" fill="#B7B7FB"/>
<rect x="346.92" y="296.73" width="15.54" height="16.04" fill="#B7B7FB"/>
<rect x="361.96" y="296.73" width="15.54" height="16.04" fill="#E2E2FD"/>
<rect x="377.00" y="296.73" width="15.54" height="16.04" fill="#D9D9FC"/>
<rect x="392.04" y="296.73" width="15.54" height="16.04" fill="#C3C3FB"/>
<rect x="407.08" y="296.73" width="15.54" height="16.04" fill="#CFCFFC"/>
<rect x="422.12" y="296.73" width="15.54" height="16.04" fill="#C3C3FB"/>
<rect x="437.16" y="296.73" width="15.54" height="16.04" fill="#E2E2FD"/>
<rect x="452.20" y="296.73" width="15.54" height="16.04" fill="#CFCFFC"/>
<rect x="467.24" y="296.73" width="15.54" height="16.04" fill="#CFCFFC"/>
<rect x="482.28" y="296.73" width="15.54" height="16.04" fill="#C3C3FB"/>
<rect x="497.32" y="296.73" width="15.54" height="16.04" fill="#D9D9FC"/>
<rect x="512.36" y="296.73" width="15.54" height="16.04" fill="#FDF9F9"/>
<rect x="527.40" y="296.73" width="15.04" height="16.04" fill="#E2E2FD"/>
<rect x="1.00" y="312.26" width="15.54" height="16.04" fill="#F5C8CC"/>
<rect x="16.04" y="312.26" width="15.54" height="16.04" fill="#F8E0E0"/>
<rect x="31.08" y="312.26" width="15.54" height="16.04" fill="#F4BABE"/>
<rect x="46.12" y="312.26" width="15.54" height="16.04" fill="#F8E0E0"/>
<rect x="61.16" y="312.26" width="15.54" height="16.04" fill="#F9E8E8"/>
<rect x="76.20" y="312.26" width="15.54" height="16.04" fill="#F4BABE"/>
<rect x="91.24" y="312.26" width="15.54" height="16.04" fill="#F4BABE"/>
<rect x="106.28" y="312.26" width="15.54" height="16.04" fill="#F3ABAF"/>
<rect x="121.32" y="312.26" width="15.54" height="16.04" fill="#F5C8CC"/>
<rect x="136.36" y="312.26" width="15.54" height="16.04" fill="#F4BABE"/>
<rect x="151.40" y="312.26" width="15.54" height="16.04" fill="#F5C8CC"/>
<rect x="166.44" y="312.26" width="15.54" height="16.04" fill="#F3ABAF"/>
<rect x="181.48" y="312.26" width="15.54" height="16.04" fill="#F0626A"/>
<rect x="196.52" y="312.26" width="15.54" height="16.04" fill="#F5C8CC"/>
<rect x="211.56" y="312.26" width="15.54" height="16.04" fill="#7474FA"/>
<rect x="226.60" y="312.26" width="15.54" height="16.04" fill="#FAEDED"/>
<rect x="241.64" y="312.26" width="15.54" height="16.04" fill="#F9E8E8"/>
<rect x="256.68" y="312.26" width="15.54" height="16.04" fill="#B7B7FB"/>
<rect x="271.72" y="312.26" width="15.54" height="16.04" fill="#FAEDED"/>
<rect x="286.76" y="312.26" width="15.54" height="16.04" fill="#FDF9F9"/>
<rect x="301.80" y="312.26" width="15.54" height="16.04" fill="#CFCFFC"/>
<rect x="316.84" y="312.26" width="15.54" height="16.04" fill="#F9E8E8"/>
<rect x="331.88" y="312.26" width="15.54" height="16.04" fill="#FAEDED"/>
<rect x="346.92" y="312.26" width="15.54" height="16.04" fill="#F3ABAF"/>
<rect x="361.96" y="312.26" width="15.54" height="16.04" fill="#CFCFFC"/>
<rect x="377.00" y="312.26" width="15.54" height="16.04" fill="#B7B7FB"/>
<rect x="392.04" y="312.26" width="15.54" height="16.04" fill="#FDF9F9"/>
<rect x="407.08" y="312.26" width="15.54" height="16.04" fill="#C3C3FB"/>
<rect x="422.12" y="312.26" width="15.54" height="16.04" fill="#E9E9FD"/>
<rect x="437.16" y="312.26" width="15.54" height="16.04" fill="#CFCFFC"/>
<rect x="452.20" y="312.26" width="15.54" height="16.04" fill="#CFCFFC"/>
<rect x="467.24" y="312.26" width="15.54" height="16.04" fill="#B7B7FB"/>
<rect x="482.28" y="312.26" width="15.54" height="16.04" fill="#C3C3FB"/>
<rect x="497.32" y="312.26" width="15.54" height="16.04" fill="#AAAAFB"/>
<rect x="512.36" y="312.26" width="15.54" height="16.04" fill="#3812F8"/>
<rect x="527.40" y="312.26" width="15.04" height="16.04" fill="#D9D9FC"/>
<rect x="1.00" y="327.80" width="15.54" height="16.04" fill="#FAEDED"/>
<rect x="16.04" y="327.80" width="15.54" height="16.04" fill="#AAAAFB"/>
<rect x="31.08" y="327.80" width="15.54" height="16.04" fill="#F8E0E0"/>
<rect x="46.12" y="327.80" width="15.54" height="16.04" fill="#FAEDED"/>
<rect x="61.16" y="327.80" width="15.54" height="16.04" fill="#AAAAFB"/>
<rect x="76.20" y="327.80" width="15.54" height="16.04" fill="#F4BABE"/>
<rect x="91.24" y="327.80" width="15.54" height="16.04" fill="#F6D5D7"/>
<rect x="106.28" y="327.80" width="15.54" height="16.04" fill="#F2535C"/>
<rect x="121.32" y="327.80" width="15.54" height="16.04" fill="#F4BABE"/>
<rect x="136.36" y="327.80" width="15.54" height="16.04" fill="#F6D5D7"/>
<rect x="151.40" y="327.80" width="15.54" height="16.04" fill="#F0737B"/>
<rect x="166.44" y="327.80" width="15.54" height="16.04" fill="#F18E94"/>
<rect x="181.48" y="327.80" width="15.54" height="16.04" fill="#F29DA2"/>
<rect x="196.52" y="327.80" width="15.54" height="16.04" fill="#EEEEFD"/>
<rect x="211.56" y="327.80" width="15.54" height="16.04" fill="#F4BABE"/>
<rect x="226.60" y="327.80" width="15.54" height="16.04" fill="#F08087"/>
<rect x="241.64" y="327.80" width="15.54" height="16.04" fill="#CFCFFC"/>
<rect x="256.68" y="327.80" width="15.54" height="16.04" fill="#F4BABE"/>
<rect x="271.72" y="327.80" width="15.54" height="16.04" fill="#FDF9F9"/>
<rect x="286.76" y="327.80" width="15.54" height="16.04" fill="#FDF9F9"/>
<rect x="301.80" y="327.80" width="15.54" height="16.04" fill="#CFCFFC"/>
<rect x="316.84" y="327.80" width="15.54" height="16.04" fill="#EEEEFD"/>
<rect x="331.88" y="327.80" width="15.54" height="16.04" fill="#EEEEFD"/>
<rect x="346.92" y="327.80" width="15.54" height="16.04" fill="#FDF9F9"/>
<rect x="361.96" y="327.80" width="15.54" height="16.04" fill="#D9D9FC"/>
<rect x="377.00" y="327.80" width="15.54" height="16.04" fill="#B7B7FB"/>
<rect x="392.04" y="327.80" width="15.54" height="16.04" fill="#AAAAFB"/>
<rect x="407.08" y="327.80" width="15.54" height="16.04" fill="#FAEDED"/>
<rect x="422.12" y="327.80" width="15.54" height="16.04" fill="#B7B7FB"/>
<rect x="437.16" y="327.80" width="15.54" height="16.04" fill="#E9E9FD"/>
<rect x="452.20" y="327.80" width="15.54" height="16.04" fill="#C3C3FB"/>
<rect x="467.24" y="327.80" width="15.54" height="16.04" fill="#B7B7FB"/>
<rect x="482.28" y="327.80" width="15.54" height="16.04" fill="#B7B7FB"/>
<rect x="497.32" y="327.80" width="15.54" height="16.04" fill="#D9D9FC"/>
<rect x="512.36" y="327.80" width="15.54" height="16.04" fill="#9090FA"/>
<rect x="527.40" y="327.80" width="15.04" height="16.04" fill="#9E9EFA"/>
<rect x="1.00" y="343.33" width="15.54" height="16.04" fill="#F4BABE"/>
<rect x="16.04" y="343.33" width="15.54" height="16.04" fill="#F6D5D7"/>
<rect x="31.08" y="343.33" width="15.54" height="16.04" fill="#F8E0E0"/>
<rect x="46.12" y="343.33" width="15.54" height="16.04" fill="#F29DA2"/>
<rect x="61.16" y="343.33" width="15.54" height="16.04" fill="#F4BABE"/>
<rect x="76.20" y="343.33" width="15.54" height="16.04" fill="#FAFAFE"/>
<rect x="91.24" y="343.33" width="15.54" height="16.04" fill="#CFCFFC"/>
<rect x="106.28" y="343.33" width="15.54" height="16.04" fill="#F6D5D7"/>
<rect x="121.32" y="343.33" width="15.54" height="16.04" fill="#F5C8CC"/>
<rect x="136.36" y="343.33" width="15.54" height="16.04" fill="#F6F6FD"/>
<rect x="151.40" y="343.33" width="15.54" height="16.04" fill="#FBFBFE"/>
<rect x="166.44" y="343.33" width="15.54" height="16.04" fill="#F3ABAF"/>
<rect x="181.48" y="343.33" width="15.54" height="16.04" fill="#FAEDED"/>
<rect x="196.52" y="343.33" width="15.54" height="16.04" fill="#F8E0E0"/>
<rect x="211.56" y="343.33" width="15.54" height="16.04" fill="#F5454D"/>
<rect x="226.60" y="343.33" width="15.54" height="16.04" fill="#FBF1F1"/>
<rect x="241.64" y="343.33" width="15.54" height="16.04" fill="#F6D5D7"/>
<rect x="256.68" y="343.33" width="15.54" height="16.04" fill="#F3ABAF"/>
<rect x="271.72" y="343.33" width="15.54" height="16.04" fill="#F5C8CC"/>
<rect x="286.76" y="343.33" width="15.54" height="16.04" fill="#FDF9F9"/>
<rect x="301.80" y="343.33" width="15.54" height="16.04" fill="#F29DA2"/>
<rect x="316.84" y="343.33" width="15.54" height="16.04" fill="#EEEEFD"/>
<rect x="331.88" y="343.33" width="15.54" height="16.04" fill="#B7B7FB"/>
<rect x="346.92" y="343.33" width="15.54" height="16.04" fill="#B7B7FB"/>
<rect x="361.96" y="343.33" width="15.54" height="16.04" fill="#CFCFFC"/>
<rect x="377.00" y="343.33" width="15.54" height="16.04" fill="#D9D9FC"/>
<rect x="392.04" y="343.33" width="15.54" height="16.04" fill="#AAAAFB"/>
<rect x="407.08" y="343.33" width="15.54" height="16.04" fill="#FBF1F1"/>
<rect x="422.12" y="343.33" width="15.54" height="16.04" fill="#AAAAFB"/>
<rect x="437.16" y="343.33" width="15.54" height="16.04" fill="#C3C3FB"/>
<rect x="452.20" y="343.33" width="15.54" height="16.04" fill="#B7B7FB"/>
<rect x="467.24" y="343.33" width="15.54" height="16.04" fill="#9090FA"/>
<rect x="482.28" y="343.33" width="15.54" height="16.04" fill="#F6D5D7"/>
<rect x="497.32" y="343.33" width="15.54" height="16.04" fill="#9E9EFA"/>
<rect x="512.36" y="343.33" width="15.54" height="16.04" fill="#6560FA"/>
<rect x="527.40" y="343.33" width="15.04" height="16.04" fill="#C3C3FB"/>
<rect x="1.00" y="358.87" width="15.54" height="16.04" fill="#E2E2FD"/>
<rect x="16.04" y="358.87" width="15.54" height="16.04" fill="#F3ABAF"/>
<rect x="31.08" y="358.87" width="15.54" height="16.04" fill="#F18E94"/>
<rect x="46.12" y="358.87" width="15.54" height="16.04" fill="#F5C8CC"/>
<rect x="61.16" y="358.87" width="15.54" height="16.04" fill="#FBF1F1"/>
<rect x="76.20" y="358.87" width="15.54" height="16.04" fill="#F0737B"/>
<rect x="91.24" y="358.87" width="15.54" height="16.04" fill="#F18E94"/>
<rect x="106.28" y="358.87" width="15.54" height="16.04" fill="#F6D5D7"/>
<rect x="121.32" y="358.87" width="15.54" height="16.04" fill="#F29DA2"/>
<rect x="136.36" y="358.87" width="15.54" height="16.04" fill="#F29DA2"/>
<rect x="151.40" y="358.87" width="15.54" height="16.04" fill="#FBF1F1"/>
<rect x="166.44" y="358.87" width="15.54" height="16.04" fill="#F29DA2"/>
<rect x="181.48" y="358.87" width="15.54" height="16.04" fill="#F3ABAF"/>
<rect x="196.52" y="358.87" width="15.54" height="16.04" fill="#E9E9FD"/>
<rect x="211.56" y="358.87" width="15.54" height="16.04" fill="#E2E2FD"/>
<rect x="226.60" y="358.87" width="15.54" height="16.04" fill="#E9E9FD"/>
<rect x="241.64" y="358.87" width="15.54" height="16.04" fill="#AAAAFB"/>
<rect x="256.68" y="358.87" width="15.54" height="16.04" fill="#E2E2FD"/>
<rect x="271.72" y="358.87" width="15.54" height="16.04" fill="#E9E9FD"/>
<rect x="286.76" y="358.87" width="15.54" height="16.04" fill="#D9D9FC"/>
<rect x="301.80" y="358.87" width="15.54" height="16.04" fill="#9E9EFA"/>
<rect x="316.84" y="358.87" width="15.54" height="16.04" fill="#F5C8CC"/>
<rect x="331.88" y="358.87" width="15.54" height="16.04" fill="#CFCFFC"/>
<rect x="346.92" y="358.87" width="15.54" height="16.04" fill="#B7B7FB"/>
<rect x="361.96" y="358.87" width="15.54" height="16.04" fill="#CFCFFC"/>
<rect x="377.00" y="358.87" width="15.54" height="16.04" fill="#FDF9F9"/>
<rect x="392.04" y="358.87" width="15.54" height="16.04" fill="#E2E2FD"/>
<rect x="407.08" y="358.87" width="15.54" height="16.04" fill="#EEEEFD"/>
<rect x="422.12" y="358.87" width="15.54" height="16.04" fill="#FDF9F9"/>
<rect x="437.16" y="358.87" width="15.54" height="16.04" fill="#F3F3FD"/>
<rect x="452.20" y="358.87" width="15.54" height="16.04" fill="#E9E9FD"/>
<rect x="467.24" y="358.87" width="15.54" height="16.04" fill="#EEEEFD"/>
<rect x="482.28" y="358.87" width="15.54" height="16.04" fill="#AAAAFB"/>
<rect x="497.32" y="358.87" width="15.54" height="16.04" fill="#FAEDED"/>
<rect x="512.36" y="358.87" width="15.54" height="16.04" fill="#3812F8"/>
<rect x="527.40" y="358.87" width="15.04" height="16.04" fill="#CFCFFC"/>
<rect x="1.00" y="374.40" width="15.54" height="16.04" fill="#EEEEFD"/>
<rect x="16.04" y="374.40" width="15.54" height="16.04" fill="#F6D5D7"/>
<rect x="31.08" y="374.40" width="15.54" height="16.04" fill="#FDF9F9"/>
<rect x="46.12" y="374.40" width="15.54" height="16.04" fill="#F0737B"/>
<rect x="61.16" y="374.40" width="15.54" height="16.04" fill="#FF1A0A"/>
<rect x="76.20" y="374.40" width="15.54" height="16.04" fill="#F4BABE"/>
<rect x="91.24" y="374.40" width="15.54" height="16.04" fill="#F4BABE"/>
<rect x="106.28" y="374.40" width="15.54" height="16.04" fill="#E2E2FD"/>
<rect x="121.32" y="374.40" width="15.54" height="16.04" fill="#F8E0E0"/>
<rect x="136.36" y="374.40" width="15.54" height="16.04" fill="#F5C8CC"/>
<rect x="151.40" y="374.40" width="15.54" height="16.04" fill="#C3C3FB"/>
<rect x="166.44" y="374.40" width="15.54" height="16.04" fill="#F8E0E0"/>
<rect x="181.48" y="374.40" width="15.54" height="16.04" fill="#F29DA2"/>
<rect x="196.52" y="374.40" width="15.54" height="16.04" fill="#B7B7FB"/>
<rect x="211.56" y="374.40" width="15.54" height="16.04" fill="#F29DA2"/>
<rect x="226.60" y="374.40" width="15.54" height="16.04" fill="#F4BABE"/>
<rect x="241.64" y="374.40" width="15.54" height="16.04" fill="#EEEEFD"/>
<rect x="256.68" y="374.40" width="15.54" height="16.04" fill="#FBF1F1"/>
<rect x="271.72" y="374.40" width="15.54" height="16.04" fill="#D9D9FC"/>
<rect x="286.76" y="374.40" width="15.54" height="16.04" fill="#9090FA"/>
<rect x="301.80" y="374.40" width="15.54" height="16.04" fill="#AAAAFB"/>
<rect x="316.84" y="374.40" width="15.54" height="16.04" fill="#F8E0E0"/>
<rect x="331.88" y="374.40" width="15.54" height="16.04" fill="#C3C3FB"/>
<rect x="346.92" y="374.40" width="15.54" height="16.04" fill="#F8E0E0"/>
<rect x="361.96" y="374.40" width="15.54" height="16.04" fill="#E2E2FD"/>
<rect x="377.00" y="374.40" width="15.54" height="16.04" fill="#CFCFFC"/>
<rect x="392.04" y="374.40" width="15.54" height="16.04" fill="#D9D9FC"/>
<rect x="407.08" y="374.40" width="15.54" height="16.04" fill="#C3C3FB"/>
<rect x="422.12" y="374.40" width="15.54" height="16.04" fill="#E2E2FD"/>
<rect x="437.16" y="374.40" width="15.54" height="16.04" fill="#E2E2FD"/>
<rect x="452.20" y="374.40" width="15.54" height="16.04" fill="#C3C3FB"/>
<rect x="467.24" y="374.40" width="15.54" height="16.04" fill="#CFCFFC"/>
<rect x="482.28" y="374.40" width="15.54" height="16.04" fill="#FDF9F9"/>
<rect x="497.32" y="374.40" width="15.54" height="16.04" fill="#EEEEFD"/>
<rect x="512.36" y="374.40" width="15.54" height="16.04" fill="#9E9EFA"/>
<rect x="527.40" y="374.40" width="15.04" height="16.04" fill="#B7B7FB"/>
<rect x="1.00" y="389.94" width="15.54" height="16.04" fill="#F3ABAF"/>
<rect x="16.04" y="389.94" width="15.54" height="16.04" fill="#F0626A"/>
<rect x="31.08" y="389.94" width="15.54" height="16.04" fill="#F08087"/>
<rect x="46.12" y="389.94" width="15.54" height="16.04" fill="#F29DA2"/>
<rect x="61.16" y="389.94" width="15.54" height="16.04" fill="#F0626A"/>
<rect x="76.20" y="389.94" width="15.54" height="16.04" fill="#FAEDED"/>
<rect x="91.24" y="389.94" width="15.54" height="16.04" fill="#E2E2FD"/>
<rect x="106.28" y="389.94" width="15.54" height="16.04" fill="#F6F6FD"/>
<rect x="121.32" y="389.94" width="15.54" height="16.04" fill="#E2E2FD"/>
<rect x="136.36" y="389.94" width="15.54" height="16.04" fill="#F6D5D7"/>
<rect x="151.40" y="389.94" width="15.54" height="16.04" fill="#F3ABAF"/>
<rect x="166.44" y="389.94" width="15.54" height="16.04" fill="#F29DA2"/>
<rect x="181.48" y="389.94" width="15.54" height="16.04" fill="#F4BABE"/>
<rect x="196.52" y="389.94" width="15.54" height="16.04" fill="#D9D9FC"/>
<rect x="211.56" y="389.94" width="15.54" height="16.04" fill="#F3ABAF"/>
<rect x="226.60" y="389.94" width="15.54" height="16.04" fill="#EEEEFD"/>
<rect x="241.64" y="389.94" width="15.54" height="16.04" fill="#9090FA"/>
<rect x="256.68" y="389.94" width="15.54" height="16.04" fill="#9E9EFA"/>
<rect x="271.72" y="389.94" width="15.54" height="16.04" fill="#FAFAFE"/>
<rect x="286.76" y="389.94" width="15.54" height="16.04" fill="#FAEDED"/>
<rect x="301.80" y="389.94" width="15.54" height="16.04" fill="#F29DA2"/>
<rect x="316.84" y="389.94" width="15.54" height="16.04" fill="#EEEEFD"/>
<rect x="331.88" y="389.94" width="15.54" height="16.04" fill="#D9D9FC"/>
<rect x="346.92" y="389.94" width="15.54" height="16.04" fill="#C3C3FB"/>
<rect x="361.96" y="389.94" width="15.54" height="16.04" fill="#CFCFFC"/>
<rect x="377.00" y="389.94" width="15.54" height="16.04" fill="#B7B7FB"/>
<rect x="392.04" y="389.94" width="15.54" height="16.04" fill="#C3C3FB"/>
<rect x="407.08" y="389.94" width="15.54" height="16.04" fill="#E2E2FD"/>
<rect x="422.12" y="389.94" width="15.54" height="16.04" fill="#C3C3FB"/>
<rect x="437.16" y="389.94" width="15.54" height="16.04" fill="#B7B7FB"/>
<rect x="452.20" y="389.94" width="15.54" height="16.04" fill="#9090FA"/>
<rect x="467.24" y="389.94" width="15.54" height="16.04" fill="#E2E2FD"/>
<rect x="482.28" y="389.94" width="15.54" height="16.04" fill="#C3C3FB"/>
<rect x="497.32" y="389.94" width="15.54" height="16.04" fill="#C3C3FB"/>
<rect x="512.36" y="389.94" width="15.54" height="16.04" fill="#E9E9FD"/>
<rect x="527.40" y="389.94" width="15.04" height="16.04" fill="#FAFAFE"/>
<rect x="1.00" y="405.47" width="15.54" height="16.04" fill="#EEEEFD"/>
<rect x="16.04" y="405.47" width="15.54" height="16.04" fill="#F6D5D7"/>
<rect x="31.08" y="405.47" width="15.54" height="16.04" fill="#F4BABE"/>
<rect x="46.12" y="405.47" width="15.54" height="16.04" fill="#F5454D"/>
<rect x="61.16" y="405.47" width="15.54" height="16.04" fill="#FB2A27"/>
<rect x="76.20" y="405.47" width="15.54" height="16.04" fill="#F8E0E0"/>
<rect x="91.24" y="405.47" width="15.54" height="16.04" fill="#F8E0E0"/>
<rect x="106.28" y="405.47" width="15.54" height="16.04" fill="#F4BABE"/>
<rect x="121.32" y="405.47" width="15.54" height="16.04" fill="#FDF9F9"/>
<rect x="136.36" y="405.47" width="15.54" height="16.04" fill="#F9E8E8"/>
<rect x="151.40" y="405.47" width="15.54" height="16.04" fill="#FAEDED"/>
<rect x="166.44" y="405.47" width="15.54" height="16.04" fill="#F5C8CC"/>
<rect x="181.48" y="405.47" width="15.54" height="16.04" fill="#F4BABE"/>
<rect x="196.52" y="405.47" width="15.54" height="16.04" fill="#E9E9FD"/>
<rect x="211.56" y="405.47" width="15.54" height="16.04" fill="#F5C8CC"/>
<rect x="226.60" y="405.47" width="15.54" height="16.04" fill="#D9D9FC"/>
<rect x="241.64" y="405.47" width="15.54" height="16.04" fill="#CFCFFC"/>
<rect x="256.68" y="405.47" width="15.54" height="16.04" fill="#E9E9FD"/>
<rect x="271.72" y="405.47" width="15.54" height="16.04" fill="#F3ABAF"/>
<rect x="286.76" y="405.47" width="15.54" height="16.04" fill="#FAEDED"/>
<rect x="301.80" y="405.47" width="15.54" height="16.04" fill="#F3ABAF"/>
<rect x="316.84" y="405.47" width="15.54" height="16.04" fill="#C3C3FB"/>
<rect x="331.88" y="405.47" width="15.54" height="16.04" fill="#D9D9FC"/>
<rect x="346.92" y="405.47" width="15.54" height="16.04" fill="#B7B7FB"/>
<rect x="361.96" y="405.47" width="15.54" height="16.04" fill="#E2E2FD"/>
<rect x="377.00" y="405.47" width="15.54" height="16.04" fill="#CFCFFC"/>
<rect x="392.04" y="405.47" width="15.54" height="16.04" fill="#B7B7FB"/>
<rect x="407.08" y="405.47" width="15.54" height="16.04" fill="#C3C3FB"/>
<rect x="422.12" y="405.47" width="15.54" height="16.04" fill="#C3C3FB"/>
<rect x="437.16" y="405.47" width="15.54" height="16.04" fill="#CFCFFC"/>
<rect x="452.20" y="405.47" width="15.54" height="16.04" fill="#9E9EFA"/>
<rect x="467.24" y="405.47" width="15.54" height="16.04" fill="#C3C3FB"/>
<rect x="482.28" y="405.47" width="15.54" height="16.04" fill="#B7B7FB"/>
<rect x="497.32" y="405.47" width="15.54" height="16.04" fill="#B7B7FB"/>
<rect x="512.36" y="405.47" width="15.54" height="16.04" fill="#D9D9FC"/>
<rect x="527.40" y="405.47" width="15.04" height="16.04" fill="#9E9EFA"/>
<rect x="1.00" y="421.00" width="15.54" height="16.04" fill="#F9E8E8"/>
<rect x="16.04" y="421.00" width="15.54" height="16.04" fill="#F29DA2"/>
<rect x="31.08" y="421.00" width="15.54" height="16.04" fill="#F5C8CC"/>
<rect x="46.12" y="421.00" width="15.54" height="16.04" fill="#FF1A0A"/>
<rect x="61.16" y="421.00" width="15.54" height="16.04" fill="#FF1A0A"/>
<rect x="76.20" y="421.00" width="15.54" height="16.04" fill="#EEEEFD"/>
<rect x="91.24" y="421.00" width="15.54" height="16.04" fill="#E9E9FD"/>
<rect x="106.28" y="421.00" width="15.54" height="16.04" fill="#F29DA2"/>
<rect x="121.32" y="421.00" width="15.54" height="16.04" fill="#F9E8E8"/>
<rect x="136.36" y="421.00" width="15.54" height="16.04" fill="#E9E9FD"/>
<rect x="151.40" y="421.00" width="15.54" height="16.04" fill="#E9E9FD"/>
<rect x="166.44" y="421.00" width="15.54" height="16.04" fill="#FBF1F1"/>
<rect x="181.48" y="421.00" width="15.54" height="16.04" fill="#F6F6FD"/>
<rect x="196.52" y="421.00" width="15.54" height="16.04" fill="#EEEEFD"/>
<rect x="211.56" y="421.00" width="15.54" height="16.04" fill="#F5C8CC"/>
<rect x="226.60" y="421.00" width="15.54" height="16.04" fill="#FDF9F9"/>
<rect x="241.64" y="421.00" width="15.54" height="16.04" fill="#E9E9FD"/>
<rect x="256.68" y="421.00" width="15.54" height="16.04" fill="#FBF1F1"/>
<rect x="271.72" y="421.00" width="15.54" height="16.04" fill="#E2E2FD"/>
<rect x="286.76" y="421.00" width="15.54" height="16.04" fill="#E2E2FD"/>
<rect x="301.80" y="421.00" width="15.54" height="16.04" fill="#EEEEFD"/>
<rect x="316.84" y="421.00" width="15.54" height="16.04" fill="#E9E9FD"/>
<rect x="331.88" y="421.00" width="15.54" height="16.04" fill="#CFCFFC"/>
<rect x="346.92" y="421.00" width="15.54" height="16.04" fill="#D9D9FC"/>
<rect x="361.96" y="421.00" width="15.54" height="16.04" fill="#D9D9FC"/>
<rect x="377.00" y="421.00" width="15.54" height="16.04" fill="#D9D9FC"/>
<rect x="392.04" y="421.00" width="15.54" height="16.04" fill="#CFCFFC"/>
<rect x="407.08" y="421.00" width="15.54" height="16.04" fill="#CFCFFC"/>
<rect x="422.12" y="421.00" width="15.54" height="16.04" fill="#CFCFFC"/>
<rect x="437.16" y="421.00" width="15.54" height="16.04" fill="#CFCFFC"/>
<rect x="452.20" y="421.00" width="15.54" height="16.04" fill="#CFCFFC"/>
<rect x="467.24" y="421.00" width="15.54" height="16.04" fill="#CFCFFC"/>
<rect x="482.28" y="421.00" width="15.54" height="16.04" fill="#CFCFFC"/>
<rect x="497.32" y="421.00" width="15.54" height="16.04" fill="#CFCFFC"/>
<rect x="512.36" y="421.00" width="15.54" height="16.04" fill="#CFCFFC"/>
<rect x="527.40" y="421.00" width="15.04" height="16.04" fill="#D9D9FC"/>
<rect x="1.00" y="436.54" width="15.54" height="16.04" fill="#FDF9F9"/>
<rect x="16.04" y="436.54" width="15.54" height="16.04" fill="#F0626A"/>
<rect x="31.08" y="436.54" width="15.54" height="16.04" fill="#F08087"/>
<rect x="46.12" y="436.54" width="15.54" height="16.04" fill="#F0737B"/>
<rect x="61.16" y="436.54" width="15.54" height="16.04" fill="#F0737B"/>
<rect x="76.20" y="436.54" width="15.54" height="16.04" fill="#FDF9F9"/>
<rect x="91.24" y="436.54" width="15.54" height="16.04" fill="#E9E9FD"/>
<rect x="106.28" y="436.54" width="15.54" height="16.04" fill="#FAEDED"/>
<rect x="121.32" y="436.54" width="15.54" height="16.04" fill="#FDF9F9"/>
<rect x="136.36" y="436.54" width="15.54" height="16.04" fill="#F6D5D7"/>
<rect x="151.40" y="436.54" width="15.54" height="16.04" fill="#F4BABE"/>
<rect x="166.44" y="436.54" width="15.54" height="16.04" fill="#F29DA2"/>
<rect x="181.48" y="436.54" width="15.54" height="16.04" fill="#F4BABE"/>
<rect x="196.52" y="436.54" width="15.54" height="16.04" fill="#D9D9FC"/>
<rect x="211.56" y="436.54" width="15.54" height="16.04" fill="#F5C8CC"/>
<rect x="226.60" y="436.54" width="15.54" height="16.04" fill="#F6F6FD"/>
<rect x="241.64" y="436.54" width="15.54" height="16.04" fill="#9090FA"/>
<rect x="256.68" y="436.54" width="15.54" height="16.04" fill="#9E9EFA"/>
<rect x="271.72" y="436.54" width="15.54" height="16.04" fill="#F8E0E0"/>
<rect x="286.76" y="436.54" width="15.54" height="16.04" fill="#F8E0E0"/>
<rect x="301.80" y="436.54" width="15.54" height="16.04" fill="#F29DA2"/>
<rect x="316.84" y="436.54" width="15.54" height="16.04" fill="#F3F3FD"/>
<rect x="331.88" y="436.54" width="15.54" height="16.04" fill="#F3F3FD"/>
<rect x="346.92" y="436.54" width="15.54" height="16.04" fill="#D9D9FC"/>
<rect x="361.96" y="436.54" width="15.54" height="16.04" fill="#C3C3FB"/>
<rect x="377.00" y="436.54" width="15.54" height="16.04" fill="#AAAAFB"/>
<rect x="392.04" y="436.54" width="15.54" height="16.04" fill="#C3C3FB"/>
<rect x="407.08" y="436.54" width="15.54" height="16.04" fill="#D9D9FC"/>
<rect x="422.12" y="436.54" width="15.54" height="16.04" fill="#C3C3FB"/>
<rect x="437.16" y="436.54" width="15.54" height="16.04" fill="#AAAAFB"/>
<rect x="452.20" y="436.54" width="15.54" height="16.04" fill="#9090FA"/>
<rect x="467.24" y="436.54" width="15.54" height="16.04" fill="#E2E2FD"/>
<rect x="482.28" y="436.54" width="15.54" height="16.04" fill="#B7B7FB"/>
<rect x="497.32" y="436.54" width="15.54" height="16.04" fill="#B7B7FB"/>
<rect x="512.36" y="436.54" width="15.54" height="16.04" fill="#CFCFFC"/>
<rect x="527.40" y="436.54" width="15.04" height="16.04" fill="#FAFAFE"/>
<rect x="1.00" y="452.07" width="15.54" height="16.04" fill="#9E9EFA"/>
<rect x="16.04" y="452.07" width="15.54" height="16.04" fill="#9E9EFA"/>
<rect x="31.08" y="452.07" width="15.54" height="16.04" fill="#CFCFFC"/>
<rect x="46.12" y="452.07" width="15.54" height="16.04" fill="#8383FA"/>
<rect x="61.16" y="452.07" width="15.54" height="16.04" fill="#5548FC"/>
<rect x="76.20" y="452.07" width="15.54" height="16.04" fill="#EEEEFD"/>
<rect x="91.24" y="452.07" width="15.54" height="16.04" fill="#E9E9FD"/>
<rect x="106.28" y="452.07" width="15.54" height="16.04" fill="#F9E8E8"/>
<rect x="121.32" y="452.07" width="15.54" height="16.04" fill="#E9E9FD"/>
<rect x="136.36" y="452.07" width="15.54" height="16.04" fill="#B7B7FB"/>
<rect x="151.40" y="452.07" width="15.54" height="16.04" fill="#F6F6FD"/>
<rect x="166.44" y="452.07" width="15.54" height="16.04" fill="#E2E2FD"/>
<rect x="181.48" y="452.07" width="15.54" height="16.04" fill="#EEEEFD"/>
<rect x="196.52" y="452.07" width="15.54" height="16.04" fill="#F29DA2"/>
<rect x="211.56" y="452.07" width="15.54" height="16.04" fill="#C3C3FB"/>
<rect x="226.60" y="452.07" width="15.54" height="16.04" fill="#D9D9FC"/>
<rect x="241.64" y="452.07" width="15.54" height="16.04" fill="#F4BABE"/>
<rect x="256.68" y="452.07" width="15.54" height="16.04" fill="#B7B7FB"/>
<rect x="271.72" y="452.07" width="15.54" height="16.04" fill="#CFCFFC"/>
<rect x="286.76" y="452.07" width="15.54" height="16.04" fill="#F6F6FD"/>
<rect x="301.80" y="452.07" width="15.54" height="16.04" fill="#C3C3FB"/>
<rect x="316.84" y="452.07" width="15.54" height="16.04" fill="#E9E9FD"/>
<rect x="331.88" y="452.07" width="15.54" height="16.04" fill="#F18E94"/>
<rect x="346.92" y="452.07" width="15.54" height="16.04" fill="#F0737B"/>
<rect x="361.96" y="452.07" width="15.54" height="16.04" fill="#F18E94"/>
<rect x="377.00" y="452.07" width="15.54" height="16.04" fill="#F6D5D7"/>
<rect x="392.04" y="452.07" width="15.54" height="16.04" fill="#F3ABAF"/>
<rect x="407.08" y="452.07" width="15.54" height="16.04" fill="#F5C8CC"/>
<rect x="422.12" y="452.07" width="15.54" height="16.04" fill="#F6D5D7"/>
<rect x="437.16" y="452.07" width="15.54" height="16.04" fill="#F4BABE"/>
<rect x="452.20" y="452.07" width="15.54" height="16.04" fill="#CFCFFC"/>
<rect x="467.24" y="452.07" width="15.54" height="16.04" fill="#FDF9F9"/>
<rect x="482.28" y="452.07" width="15.54" height="16.04" fill="#F4BABE"/>
<rect x="497.32" y="452.07" width="15.54" height="16.04" fill="#F6D5D7"/>
<rect x="512.36" y="452.07" width="15.54" height="16.04" fill="#F08087"/>
<rect x="527.40" y="452.07" width="15.04" height="16.04" fill="#F4BABE"/>
<rect x="1.00" y="467.61" width="15.54" height="16.04" fill="#FAEDED"/>
<rect x="16.04" y="467.61" width="15.54" height="16.04" fill="#E2E2FD"/>
<rect x="31.08" y="467.61" width="15.54" height="16.04" fill="#9E9EFA"/>
<rect x="46.12" y="467.61" width="15.54" height="16.04" fill="#9E9EFA"/>
<rect x="61.16" y="467.61" width="15.54" height="16.04" fill="#9090FA"/>
<rect x="76.20" y="467.61" width="15.54" height="16.04" fill="#B7B7FB"/>
<rect x="91.24" y="467.61" width="15.54" height="16.04" fill="#FDF9F9"/>
<rect x="106.28" y="467.61" width="15.54" height="16.04" fill="#F6D5D7"/>
<rect x="121.32" y="467.61" width="15.54" height="16.04" fill="#B7B7FB"/>
<rect x="136.36" y="467.61" width="15.54" height="16.04" fill="#F6D5D7"/>
<rect x="151.40" y="467.61" width="15.54" height="16.04" fill="#F5C8CC"/>
<rect x="166.44" y="467.61" width="15.54" height="16.04" fill="#E9E9FD"/>
<rect x="181.48" y="467.61" width="15.54" height="16.04" fill="#F9E8E8"/>
<rect x="196.52" y="467.61" width="15.54" height="16.04" fill="#9090FA"/>
<rect x="211.56" y="467.61" width="15.54" height="16.04" fill="#5548FC"/>
<rect x="226.60" y="467.61" width="15.54" height="16.04" fill="#5548FC"/>
<rect x="241.64" y="467.61" width="15.54" height="16.04" fill="#E9E9FD"/>
<rect x="256.68" y="467.61" width="15.54" height="16.04" fill="#E9E9FD"/>
<rect x="271.72" y="467.61" width="15.54" height="16.04" fill="#F29DA2"/>
<rect x="286.76" y="467.61" width="15.54" height="16.04" fill="#FDF9F9"/>
<rect x="301.80" y="467.61" width="15.54" height="16.04" fill="#F6F6FD"/>
<rect x="316.84" y="467.61" width="15.54" height="16.04" fill="#F8E0E0"/>
<rect x="331.88" y="467.61" width="15.54" height="16.04" fill="#F4BABE"/>
<rect x="346.92" y="467.61" width="15.54" height="16.04" fill="#F5C8CC"/>
<rect x="361.96" y="467.61" width="15.54" height="16.04" fill="#F3ABAF"/>
<rect x="377.00" y="467.61" width="15.54" height="16.04" fill="#F9E8E8"/>
<rect x="392.04" y="467.61" width="15.54" height="16.04" fill="#F5C8CC"/>
<rect x="407.08" y="467.61" width="15.54" height="16.04" fill="#F3ABAF"/>
<rect x="422.12" y="467.61" width="15.54" height="16.04" fill="#FAEDED"/>
<rect x="437.16" y="467.61" width="15.54" height="16.04" fill="#FAEDED"/>
<rect x="452.20" y="467.61" width="15.54" height="16.04" fill="#F5C8CC"/>
<rect x="467.24" y="467.61" width="15.54" height="16.04" fill="#F4BABE"/>
<rect x="482.28" y="467.61" width="15.54" height="16.04" fill="#F8E0E0"/>
<rect x="497.32" y="467.61" width="15.54" height="16.04" fill="#F8E0E0"/>
<rect x="512.36" y="467.61" width="15.54" height="16.04" fill="#F0737B"/>
<rect x="527.40" y="467.61" width="15.04" height="16.04" fill="#F8E0E0"/>
<rect x="1.00" y="483.14" width="15.54" height="15.54" fill="#9E9EFA"/>
<rect x="16.04" y="483.14" width="15.54" height="15.54" fill="#AAAAFB"/>
<rect x="31.08" y="483.14" width="15.54" height="15.54" fill="#C3C3FB"/>
<rect x="46.12" y="483.14" width="15.54" height="15.54" fill="#9E9EFA"/>
<rect x="61.16" y="483.14" width="15.54" height="15.54" fill="#6560FA"/>
<rect x="76.20" y="483.14" width="15.54" height="15.54" fill="#FDF9F9"/>
<rect x="91.24" y="483.14" width="15.54" height="15.54" fill="#C3C3FB"/>
<rect x="106.28" y="483.14" width="15.54" height="15.54" fill="#F5C8CC"/>
<rect x="121.32" y="483.14" width="15.54" height="15.54" fill="#E9E9FD"/>
<rect x="136.36" y="483.14" width="15.54" height="15.54" fill="#9E9EFA"/>
<rect x="151.40" y="483.14" width="15.54" height="15.54" fill="#AAAAFB"/>
<rect x="166.44" y="483.14" width="15.54" height="15.54" fill="#9E9EFA"/>
<rect x="181.48" y="483.14" width="15.54" height="15.54" fill="#9090FA"/>
<rect x="196.52" y="483.14" width="15.54" height="15.54" fill="#F3ABAF"/>
<rect x="211.56" y="483.14" width="15.54" height="15.54" fill="#AAAAFB"/>
<rect x="226.60" y="483.14" width="15.54" height="15.54" fill="#E2E2FD"/>
<rect x="241.64" y="483.14" width="15.54" height="15.54" fill="#F3ABAF"/>
<rect x="256.68" y="483.14" width="15.54" height="15.54" fill="#EEEEFD"/>
<rect x="271.72" y="483.14" width="15.54" height="15.54" fill="#F6D5D7"/>
<rect x="286.76" y="483.14" width="15.54" height="15.54" fill="#F29DA2"/>
<rect x="301.80" y="483.14" width="15.54" height="15.54" fill="#FAEDED"/>
<rect x="316.84" y="483.14" width="15.54" height="15.54" fill="#EEEEFD"/>
<rect x="331.88" y="483.14" width="15.54" height="15.54" fill="#F08087"/>
<rect x="346.92" y="483.14" width="15.54" height="15.54" fill="#F29DA2"/>
<rect x="361.96" y="483.14" width="15.54" height="15.54" fill="#F5C8CC"/>
<rect x="377.00" y="483.14" width="15.54" height="15.54" fill="#FAEDED"/>
<rect x="392.04" y="483.14" width="15.54" height="15.54" fill="#F6D5D7"/>
<rect x="407.08" y="483.14" width="15.54" height="15.54" fill="#F4BABE"/>
<rect x="422.12" y="483.14" width="15.54" height="15.54" fill="#F4BABE"/>
<rect x="437.16" y="483.14" width="15.54" height="15.54" fill="#F3ABAF"/>
<rect x="452.20" y="483.14" width="15.54" height="15.54" fill="#F6F6FD"/>
<rect x="467.24" y="483.14" width="15.54" height="15.54" fill="#FAEDED"/>
<rect x="482.28" y="483.14" width="15.54" height="15.54" fill="#F18E94"/>
<rect x="497.32" y="483.14" width="15.54" height="15.54" fill="#FBF1F1"/>
<rect x="512.36" y="483.14" width="15.54" height="15.54" fill="#F6D5D7"/>
<rect x="527.40" y="483.14" width="15.04" height="15.54" fill="#F4BABE"/>
<g font-size="10" font-style="italic" stroke-width="0.25">
<text transform="translate(546.40,74.87) rotate(0.05)" fill="#23776B" stroke="#23776B">Hafnia</text>
<text transform="translate(546.40,90.40) rotate(0.05)" fill="#23776B" stroke="#23776B">Weissella</text>
<text transform="translate(546.40,105.94) rotate(0.05)" fill="#23776B" stroke="#23776B">Cedecea</text>
<text transform="translate(546.40,121.47) rotate(0.05)" fill="#23776B" stroke="#23776B">Delta/desulfonatronospira</text>
<text transform="translate(546.40,137.01) rotate(0.05)" fill="#23776B" stroke="#23776B">Oleispira</text>
<text transform="translate(546.40,152.54) rotate(0.05)" fill="#23776B" stroke="#23776B">Rahnella</text>
<text transform="translate(546.40,168.08) rotate(0.05)" fill="#23776B" stroke="#23776B">Raoultella</text>
<text transform="translate(546.40,183.61) rotate(0.05)" fill="#23776B" stroke="#23776B">Solibacillus</text>
<text transform="translate(546.40,199.15) rotate(0.05)" fill="#23776B" stroke="#23776B">Aggregatibacter</text>
<text transform="translate(546.40,214.68) rotate(0.05)" fill="#23776B" stroke="#23776B">Thalassospira</text>
<text transform="translate(546.40,230.22) rotate(0.05)" fill="#23776B" stroke="#23776B">Halomonas</text>
<text transform="translate(546.40,245.75) rotate(0.05)" fill="#23776B" stroke="#23776B">Clostridium</text>
<text transform="translate(546.40,261.29) rotate(0.05)" fill="#23776B" stroke="#23776B">Morganella</text>
<text transform="translate(546.40,276.82) rotate(0.05)" fill="#23776B" stroke="#23776B">Ureibacillus</text>
<text transform="translate(546.40,292.36) rotate(0.05)" fill="#23776B" stroke="#23776B">Tatumella</text>
<text transform="translate(546.40,307.89) rotate(0.05)" fill="#23776B" stroke="#23776B">Porticoccus</text>
<text transform="translate(546.40,323.43) rotate(0.05)" fill="#23776B" stroke="#23776B">Kosakonia</text>
<text transform="translate(546.40,338.96) rotate(0.05)" fill="#23776B" stroke="#23776B">Alteromonas</text>
<text transform="translate(546.40,354.50) rotate(0.05)" fill="#23776B" stroke="#23776B">Bacteroidetes/capnocytophaga</text>
<text transform="translate(546.40,370.03) rotate(0.05)" fill="#23776B" stroke="#23776B">Blochmannia</text>
<text transform="translate(546.40,385.57) rotate(0.05)" fill="#23776B" stroke="#23776B">Providencia</text>
<text transform="translate(546.40,401.10) rotate(0.05)" fill="#23776B" stroke="#23776B">Pelotomaculum</text>
<text transform="translate(546.40,416.64) rotate(0.05)" fill="#23776B" stroke="#23776B">Shewanella</text>
<text transform="translate(546.40,432.17) rotate(0.05)" fill="#23776B" stroke="#23776B">Algiphilus</text>
<text transform="translate(546.40,447.71) rotate(0.05)" fill="#23776B" stroke="#23776B">Desulfotomaculum</text>
<text transform="translate(546.40,463.24) rotate(0.05)" fill="#D2601E" stroke="#D2601E">Serratia</text>
<text transform="translate(546.40,478.78) rotate(0.05)" fill="#D2601E" stroke="#D2601E">Tetragenococcus</text>
<text transform="translate(546.40,494.31) rotate(0.05)" fill="#D2601E" stroke="#D2601E">Erwinia</text>
</g>
<defs><linearGradient id="lg" x1="0" x2="1" y1="0" y2="0">
<stop offset="0.0000" stop-color="#0000FF"/>
<stop offset="0.1503" stop-color="#0A00FF"/>
<stop offset="0.2378" stop-color="#6A60FB"/>
<stop offset="0.3252" stop-color="#A0A0FA"/>
<stop offset="0.4126" stop-color="#D5D5FC"/>
<stop offset="0.5000" stop-color="#FFFFFF"/>
<stop offset="0.5874" stop-color="#F5CCCE"/>
<stop offset="0.6748" stop-color="#F29DA2"/>
<stop offset="0.7622" stop-color="#F0626A"/>
<stop offset="0.8497" stop-color="#FF1A0A"/>
<stop offset="1.0000" stop-color="#FF1606"/>
</linearGradient></defs>
<text transform="translate(547.6,10.0) rotate(0.05)" font-size="12.1" font-weight="bold" fill="#000">Scale</text>
<rect x="547.6" y="11.7" width="67.6" height="8.35" fill="url(#lg)"/>
<rect x="549.50" y="11.7" width="0.8" height="2" fill="#fff"/>
<rect x="549.50" y="18.05" width="0.8" height="2" fill="#fff"/>
<text transform="translate(550.40,29.55) rotate(0.05)" font-size="10.3" text-anchor="middle" fill="#000">-4</text>
<rect x="565.27" y="11.7" width="0.8" height="2" fill="#fff"/>
<rect x="565.27" y="18.05" width="0.8" height="2" fill="#fff"/>
<text transform="translate(566.17,29.55) rotate(0.05)" font-size="10.3" text-anchor="middle" fill="#000">-2</text>
<rect x="581.04" y="11.7" width="0.8" height="2" fill="#fff"/>
<rect x="581.04" y="18.05" width="0.8" height="2" fill="#fff"/>
<text transform="translate(581.44,29.55) rotate(0.05)" font-size="10.3" text-anchor="middle" fill="#000">0</text>
<rect x="596.81" y="11.7" width="0.8" height="2" fill="#fff"/>
<rect x="596.81" y="18.05" width="0.8" height="2" fill="#fff"/>
<text transform="translate(597.21,29.55) rotate(0.05)" font-size="10.3" text-anchor="middle" fill="#000">2</text>
<rect x="612.58" y="11.7" width="0.8" height="2" fill="#fff"/>
<rect x="612.58" y="18.05" width="0.8" height="2" fill="#fff"/>
<text transform="translate(612.98,29.55) rotate(0.05)" font-size="10.3" text-anchor="middle" fill="#000">4</text>
<text transform="translate(547.6,41.8) rotate(0.05)" font-size="11.4" font-weight="bold" fill="#000">Race</text>
<rect x="547.8" y="46.0" width="12.2" height="11.9" fill="#48A97C"/>
<text transform="translate(563.9,55.4) rotate(0.05)" font-size="11" fill="#000">AA</text>
<rect x="582.3" y="44.7" width="12.4" height="12" fill="#D9621E"/>
<text transform="translate(598.6,54.7) rotate(0.05)" font-size="11" fill="#000">EA</text>
</svg></body></html>
